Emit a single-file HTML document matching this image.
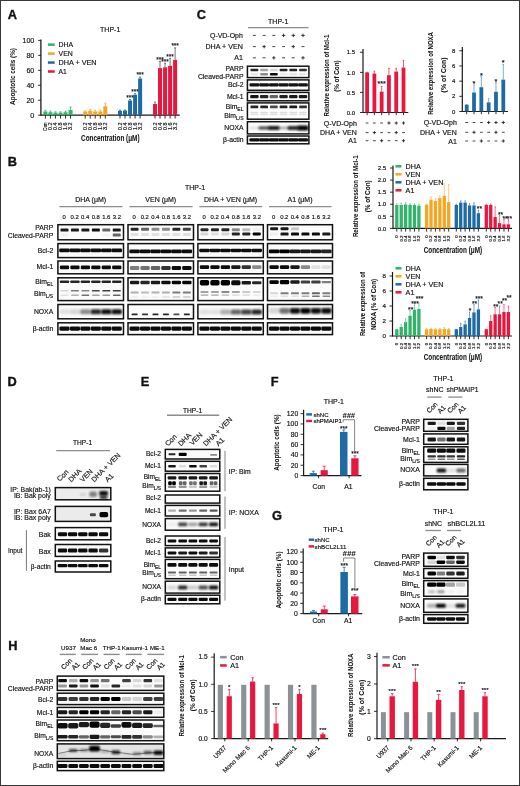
<!DOCTYPE html>
<html><head><meta charset="utf-8"><title>Figure</title>
<style>html,body{margin:0;padding:0;background:#fff;}#w{position:relative;width:520px;height:786px;overflow:hidden;}
svg{display:block;filter:blur(0.3px);}#fr{position:absolute;left:0;top:0;width:518px;height:784px;border:1px solid #383838;}
text{font-family:"Liberation Sans",sans-serif;fill:#111;stroke:#111;stroke-width:0.16px;}
text[font-weight=bold]{stroke-width:0.05px;}text.pl{stroke-width:0.35px;}</style></head><body><div id="w">
<svg width="520" height="786" viewBox="0 0 520 786">
<defs><filter id="b" x="-30%" y="-100%" width="160%" height="300%"><feGaussianBlur stdDeviation="0.55"/></filter>
<filter id="b2" x="-30%" y="-100%" width="160%" height="300%"><feGaussianBlur stdDeviation="0.8"/></filter></defs>
<rect x="0" y="0" width="520" height="786" fill="#fff"/>
<text x="7.8" y="18.6" font-size="12.8" font-weight="bold" class="pl">A</text>
<text x="110.2" y="31.6" font-size="7.0" text-anchor="middle">THP-1</text>
<line x1="40.9" y1="39.4" x2="40.9" y2="115.7" stroke="#1a1a1a" stroke-width="1.3"/>
<line x1="38.1" y1="115.2" x2="40.9" y2="115.2" stroke="#1a1a1a" stroke-width="0.9"/>
<text x="34.2" y="117.72" font-size="7.0" text-anchor="end">0</text>
<line x1="38.1" y1="100.24" x2="40.9" y2="100.24" stroke="#1a1a1a" stroke-width="0.9"/>
<text x="34.2" y="102.76" font-size="7.0" text-anchor="end">20</text>
<line x1="38.1" y1="85.28" x2="40.9" y2="85.28" stroke="#1a1a1a" stroke-width="0.9"/>
<text x="34.2" y="87.8" font-size="7.0" text-anchor="end">40</text>
<line x1="38.1" y1="70.32" x2="40.9" y2="70.32" stroke="#1a1a1a" stroke-width="0.9"/>
<text x="34.2" y="72.84" font-size="7.0" text-anchor="end">60</text>
<line x1="38.1" y1="55.36" x2="40.9" y2="55.36" stroke="#1a1a1a" stroke-width="0.9"/>
<text x="34.2" y="57.88" font-size="7.0" text-anchor="end">80</text>
<line x1="38.1" y1="40.4" x2="40.9" y2="40.4" stroke="#1a1a1a" stroke-width="0.9"/>
<text x="34.2" y="42.92" font-size="7.0" text-anchor="end">100</text>
<line x1="40.9" y1="115.2" x2="179.8" y2="115.2" stroke="#1a1a1a" stroke-width="1.3"/>
<text x="15" y="76.5" font-size="7.8" text-anchor="middle" font-weight="bold" textLength="56.8" lengthAdjust="spacingAndGlyphs" transform="rotate(-90 15 76.5)">Apoptotic cells (%)</text>
<rect x="47.9" y="43.4" width="6.8" height="2.5" fill="#2fb46a"/>
<text x="58.6" y="47.2" font-size="7.2" textLength="14.6" lengthAdjust="spacingAndGlyphs">DHA</text>
<rect x="47.9" y="52.35" width="6.8" height="2.5" fill="#f5a623"/>
<text x="58.6" y="56.15" font-size="7.2" textLength="14.2" lengthAdjust="spacingAndGlyphs">VEN</text>
<rect x="47.9" y="61.3" width="6.8" height="2.5" fill="#1d6aa5"/>
<text x="58.6" y="65.1" font-size="7.2" textLength="38" lengthAdjust="spacingAndGlyphs">DHA + VEN</text>
<rect x="47.9" y="70.25" width="6.8" height="2.5" fill="#e8173e"/>
<text x="58.6" y="74.05" font-size="7.2" textLength="8.2" lengthAdjust="spacingAndGlyphs">A1</text>
<line x1="45.4" y1="111.46" x2="45.4" y2="110.34" stroke="#2fb46a" stroke-width="0.8"/>
<line x1="44.4" y1="110.34" x2="46.4" y2="110.34" stroke="#2fb46a" stroke-width="0.8"/>
<rect x="43.4" y="111.46" width="4" height="3.74" fill="#2fb46a"/>
<line x1="45.4" y1="115.2" x2="45.4" y2="118.6" stroke="#1a1a1a" stroke-width="0.9"/>
<text x="47.1" y="122.4" font-size="5.0" text-anchor="end" textLength="8.6" lengthAdjust="spacingAndGlyphs" transform="rotate(-90 47.1 122.4)">Con</text>
<line x1="50.43" y1="112.21" x2="50.43" y2="111.09" stroke="#2fb46a" stroke-width="0.8"/>
<line x1="49.43" y1="111.09" x2="51.43" y2="111.09" stroke="#2fb46a" stroke-width="0.8"/>
<rect x="48.43" y="112.21" width="4" height="2.99" fill="#2fb46a"/>
<line x1="50.43" y1="115.2" x2="50.43" y2="118.6" stroke="#1a1a1a" stroke-width="0.9"/>
<text x="52.13" y="122.4" font-size="5.0" text-anchor="end" textLength="7.6" lengthAdjust="spacingAndGlyphs" transform="rotate(-90 52.13 122.4)">0.2</text>
<line x1="55.46" y1="112.58" x2="55.46" y2="111.83" stroke="#2fb46a" stroke-width="0.8"/>
<line x1="54.46" y1="111.83" x2="56.46" y2="111.83" stroke="#2fb46a" stroke-width="0.8"/>
<rect x="53.46" y="112.58" width="4" height="2.62" fill="#2fb46a"/>
<line x1="55.46" y1="115.2" x2="55.46" y2="118.6" stroke="#1a1a1a" stroke-width="0.9"/>
<text x="57.16" y="122.4" font-size="5.0" text-anchor="end" textLength="7.6" lengthAdjust="spacingAndGlyphs" transform="rotate(-90 57.16 122.4)">0.4</text>
<line x1="60.49" y1="112.58" x2="60.49" y2="111.83" stroke="#2fb46a" stroke-width="0.8"/>
<line x1="59.49" y1="111.83" x2="61.49" y2="111.83" stroke="#2fb46a" stroke-width="0.8"/>
<rect x="58.49" y="112.58" width="4" height="2.62" fill="#2fb46a"/>
<line x1="60.49" y1="115.2" x2="60.49" y2="118.6" stroke="#1a1a1a" stroke-width="0.9"/>
<text x="62.19" y="122.4" font-size="5.0" text-anchor="end" textLength="7.6" lengthAdjust="spacingAndGlyphs" transform="rotate(-90 62.19 122.4)">0.8</text>
<line x1="65.52" y1="112.21" x2="65.52" y2="111.09" stroke="#2fb46a" stroke-width="0.8"/>
<line x1="64.52" y1="111.09" x2="66.52" y2="111.09" stroke="#2fb46a" stroke-width="0.8"/>
<rect x="63.52" y="112.21" width="4" height="2.99" fill="#2fb46a"/>
<line x1="65.52" y1="115.2" x2="65.52" y2="118.6" stroke="#1a1a1a" stroke-width="0.9"/>
<text x="67.22" y="122.4" font-size="5.0" text-anchor="end" textLength="7.6" lengthAdjust="spacingAndGlyphs" transform="rotate(-90 67.22 122.4)">1.6</text>
<line x1="70.55" y1="109.96" x2="70.55" y2="106.97" stroke="#2fb46a" stroke-width="0.8"/>
<line x1="69.55" y1="106.97" x2="71.55" y2="106.97" stroke="#2fb46a" stroke-width="0.8"/>
<rect x="68.55" y="109.96" width="4" height="5.24" fill="#2fb46a"/>
<line x1="70.55" y1="115.2" x2="70.55" y2="118.6" stroke="#1a1a1a" stroke-width="0.9"/>
<text x="72.25" y="122.4" font-size="5.0" text-anchor="end" textLength="7.6" lengthAdjust="spacingAndGlyphs" transform="rotate(-90 72.25 122.4)">3.2</text>
<line x1="85.2" y1="111.46" x2="85.2" y2="110.71" stroke="#f5a623" stroke-width="0.8"/>
<line x1="84.2" y1="110.71" x2="86.2" y2="110.71" stroke="#f5a623" stroke-width="0.8"/>
<rect x="83.2" y="111.46" width="4" height="3.74" fill="#f5a623"/>
<line x1="85.2" y1="115.2" x2="85.2" y2="118.6" stroke="#1a1a1a" stroke-width="0.9"/>
<text x="86.9" y="122.4" font-size="5.0" text-anchor="end" textLength="7.6" lengthAdjust="spacingAndGlyphs" transform="rotate(-90 86.9 122.4)">0.2</text>
<line x1="90.23" y1="110.71" x2="90.23" y2="109.59" stroke="#f5a623" stroke-width="0.8"/>
<line x1="89.23" y1="109.59" x2="91.23" y2="109.59" stroke="#f5a623" stroke-width="0.8"/>
<rect x="88.23" y="110.71" width="4" height="4.49" fill="#f5a623"/>
<line x1="90.23" y1="115.2" x2="90.23" y2="118.6" stroke="#1a1a1a" stroke-width="0.9"/>
<text x="91.93" y="122.4" font-size="5.0" text-anchor="end" textLength="7.6" lengthAdjust="spacingAndGlyphs" transform="rotate(-90 91.93 122.4)">0.4</text>
<line x1="95.26" y1="111.46" x2="95.26" y2="110.34" stroke="#f5a623" stroke-width="0.8"/>
<line x1="94.26" y1="110.34" x2="96.26" y2="110.34" stroke="#f5a623" stroke-width="0.8"/>
<rect x="93.26" y="111.46" width="4" height="3.74" fill="#f5a623"/>
<line x1="95.26" y1="115.2" x2="95.26" y2="118.6" stroke="#1a1a1a" stroke-width="0.9"/>
<text x="96.96" y="122.4" font-size="5.0" text-anchor="end" textLength="7.6" lengthAdjust="spacingAndGlyphs" transform="rotate(-90 96.96 122.4)">0.8</text>
<line x1="100.29" y1="111.46" x2="100.29" y2="110.34" stroke="#f5a623" stroke-width="0.8"/>
<line x1="99.29" y1="110.34" x2="101.29" y2="110.34" stroke="#f5a623" stroke-width="0.8"/>
<rect x="98.29" y="111.46" width="4" height="3.74" fill="#f5a623"/>
<line x1="100.29" y1="115.2" x2="100.29" y2="118.6" stroke="#1a1a1a" stroke-width="0.9"/>
<text x="101.99" y="122.4" font-size="5.0" text-anchor="end" textLength="7.6" lengthAdjust="spacingAndGlyphs" transform="rotate(-90 101.99 122.4)">1.6</text>
<line x1="105.32" y1="106.22" x2="105.32" y2="103.23" stroke="#f5a623" stroke-width="0.8"/>
<line x1="104.32" y1="103.23" x2="106.32" y2="103.23" stroke="#f5a623" stroke-width="0.8"/>
<rect x="103.32" y="106.22" width="4" height="8.98" fill="#f5a623"/>
<line x1="105.32" y1="115.2" x2="105.32" y2="118.6" stroke="#1a1a1a" stroke-width="0.9"/>
<text x="107.02" y="122.4" font-size="5.0" text-anchor="end" textLength="7.6" lengthAdjust="spacingAndGlyphs" transform="rotate(-90 107.02 122.4)">3.2</text>
<line x1="120" y1="110.86" x2="120" y2="110.34" stroke="#1d6aa5" stroke-width="0.8"/>
<line x1="119" y1="110.34" x2="121" y2="110.34" stroke="#1d6aa5" stroke-width="0.8"/>
<rect x="118" y="110.86" width="4" height="4.34" fill="#1d6aa5"/>
<line x1="120" y1="115.2" x2="120" y2="118.6" stroke="#1a1a1a" stroke-width="0.9"/>
<text x="121.7" y="122.4" font-size="5.0" text-anchor="end" textLength="7.6" lengthAdjust="spacingAndGlyphs" transform="rotate(-90 121.7 122.4)">0.2</text>
<line x1="125.03" y1="110.56" x2="125.03" y2="109.96" stroke="#1d6aa5" stroke-width="0.8"/>
<line x1="124.03" y1="109.96" x2="126.03" y2="109.96" stroke="#1d6aa5" stroke-width="0.8"/>
<rect x="123.03" y="110.56" width="4" height="4.64" fill="#1d6aa5"/>
<line x1="125.03" y1="115.2" x2="125.03" y2="118.6" stroke="#1a1a1a" stroke-width="0.9"/>
<text x="126.73" y="122.4" font-size="5.0" text-anchor="end" textLength="7.6" lengthAdjust="spacingAndGlyphs" transform="rotate(-90 126.73 122.4)">0.4</text>
<line x1="130.06" y1="100.54" x2="130.06" y2="99.49" stroke="#1d6aa5" stroke-width="0.8"/>
<line x1="129.06" y1="99.49" x2="131.06" y2="99.49" stroke="#1d6aa5" stroke-width="0.8"/>
<rect x="128.06" y="100.54" width="4" height="14.66" fill="#1d6aa5"/>
<line x1="130.06" y1="115.2" x2="130.06" y2="118.6" stroke="#1a1a1a" stroke-width="0.9"/>
<text x="130.06" y="99.79" font-size="6.4" text-anchor="middle">***</text>
<text x="131.76" y="122.4" font-size="5.0" text-anchor="end" textLength="7.6" lengthAdjust="spacingAndGlyphs" transform="rotate(-90 131.76 122.4)">0.8</text>
<line x1="135.09" y1="94.78" x2="135.09" y2="93.51" stroke="#1d6aa5" stroke-width="0.8"/>
<line x1="134.09" y1="93.51" x2="136.09" y2="93.51" stroke="#1d6aa5" stroke-width="0.8"/>
<rect x="133.09" y="94.78" width="4" height="20.42" fill="#1d6aa5"/>
<line x1="135.09" y1="115.2" x2="135.09" y2="118.6" stroke="#1a1a1a" stroke-width="0.9"/>
<text x="135.09" y="93.81" font-size="6.4" text-anchor="middle">***</text>
<text x="136.79" y="122.4" font-size="5.0" text-anchor="end" textLength="7.6" lengthAdjust="spacingAndGlyphs" transform="rotate(-90 136.79 122.4)">1.6</text>
<line x1="140.12" y1="78.55" x2="140.12" y2="77.05" stroke="#1d6aa5" stroke-width="0.8"/>
<line x1="139.12" y1="77.05" x2="141.12" y2="77.05" stroke="#1d6aa5" stroke-width="0.8"/>
<rect x="138.12" y="78.55" width="4" height="36.65" fill="#1d6aa5"/>
<line x1="140.12" y1="115.2" x2="140.12" y2="118.6" stroke="#1a1a1a" stroke-width="0.9"/>
<text x="140.12" y="77.35" font-size="6.4" text-anchor="middle">***</text>
<text x="141.82" y="122.4" font-size="5.0" text-anchor="end" textLength="7.6" lengthAdjust="spacingAndGlyphs" transform="rotate(-90 141.82 122.4)">3.2</text>
<line x1="155" y1="103.98" x2="155" y2="102.11" stroke="#555" stroke-width="0.8"/>
<line x1="154" y1="102.11" x2="156" y2="102.11" stroke="#555" stroke-width="0.8"/>
<rect x="153" y="103.98" width="4" height="11.22" fill="#e8173e"/>
<line x1="155" y1="115.2" x2="155" y2="118.6" stroke="#1a1a1a" stroke-width="0.9"/>
<text x="156.7" y="122.4" font-size="5.0" text-anchor="end" textLength="7.6" lengthAdjust="spacingAndGlyphs" transform="rotate(-90 156.7 122.4)">0.2</text>
<line x1="160.03" y1="68.08" x2="160.03" y2="61.34" stroke="#555" stroke-width="0.8"/>
<line x1="159.03" y1="61.34" x2="161.03" y2="61.34" stroke="#555" stroke-width="0.8"/>
<rect x="158.03" y="68.08" width="4" height="47.12" fill="#e8173e"/>
<line x1="160.03" y1="115.2" x2="160.03" y2="118.6" stroke="#1a1a1a" stroke-width="0.9"/>
<text x="160.03" y="61.64" font-size="6.4" text-anchor="middle">***</text>
<text x="161.73" y="122.4" font-size="5.0" text-anchor="end" textLength="7.6" lengthAdjust="spacingAndGlyphs" transform="rotate(-90 161.73 122.4)">0.4</text>
<line x1="165.06" y1="67.33" x2="165.06" y2="63.21" stroke="#555" stroke-width="0.8"/>
<line x1="164.06" y1="63.21" x2="166.06" y2="63.21" stroke="#555" stroke-width="0.8"/>
<rect x="163.06" y="67.33" width="4" height="47.87" fill="#e8173e"/>
<line x1="165.06" y1="115.2" x2="165.06" y2="118.6" stroke="#1a1a1a" stroke-width="0.9"/>
<text x="165.06" y="63.51" font-size="6.4" text-anchor="middle">***</text>
<text x="166.76" y="122.4" font-size="5.0" text-anchor="end" textLength="7.6" lengthAdjust="spacingAndGlyphs" transform="rotate(-90 166.76 122.4)">0.8</text>
<line x1="170.09" y1="65.83" x2="170.09" y2="58.35" stroke="#555" stroke-width="0.8"/>
<line x1="169.09" y1="58.35" x2="171.09" y2="58.35" stroke="#555" stroke-width="0.8"/>
<rect x="168.09" y="65.83" width="4" height="49.37" fill="#e8173e"/>
<line x1="170.09" y1="115.2" x2="170.09" y2="118.6" stroke="#1a1a1a" stroke-width="0.9"/>
<text x="170.09" y="58.65" font-size="6.4" text-anchor="middle">***</text>
<text x="171.79" y="122.4" font-size="5.0" text-anchor="end" textLength="7.6" lengthAdjust="spacingAndGlyphs" transform="rotate(-90 171.79 122.4)">1.6</text>
<line x1="175.12" y1="59.85" x2="175.12" y2="47.88" stroke="#555" stroke-width="0.8"/>
<line x1="174.12" y1="47.88" x2="176.12" y2="47.88" stroke="#555" stroke-width="0.8"/>
<rect x="173.12" y="59.85" width="4" height="55.35" fill="#e8173e"/>
<line x1="175.12" y1="115.2" x2="175.12" y2="118.6" stroke="#1a1a1a" stroke-width="0.9"/>
<text x="175.12" y="48.18" font-size="6.4" text-anchor="middle">***</text>
<text x="176.82" y="122.4" font-size="5.0" text-anchor="end" textLength="7.6" lengthAdjust="spacingAndGlyphs" transform="rotate(-90 176.82 122.4)">3.2</text>
<text x="110.3" y="141.2" font-size="8.3" text-anchor="middle" font-weight="bold" textLength="58.5" lengthAdjust="spacingAndGlyphs">Concentration (μM)</text>
<text x="196.8" y="18.8" font-size="12.8" font-weight="bold" class="pl">C</text>
<text x="278.2" y="23.6" font-size="7.0" text-anchor="middle">THP-1</text>
<line x1="248" y1="27.6" x2="308.5" y2="27.6" stroke="#8c8c8c" stroke-width="1.4"/>
<text x="242.8" y="37.9" font-size="7.0" text-anchor="end" textLength="32.8" lengthAdjust="spacingAndGlyphs">Q-VD-Oph</text>
<line x1="252.9" y1="35.4" x2="255.9" y2="35.4" stroke="#333" stroke-width="0.9"/>
<line x1="262.62" y1="35.4" x2="265.62" y2="35.4" stroke="#333" stroke-width="0.9"/>
<line x1="272.34" y1="35.4" x2="275.34" y2="35.4" stroke="#333" stroke-width="0.9"/>
<line x1="281.86" y1="35.4" x2="285.26" y2="35.4" stroke="#222" stroke-width="0.9"/>
<line x1="283.56" y1="33.7" x2="283.56" y2="37.1" stroke="#222" stroke-width="0.9"/>
<line x1="291.58" y1="35.4" x2="294.98" y2="35.4" stroke="#222" stroke-width="0.9"/>
<line x1="293.28" y1="33.7" x2="293.28" y2="37.1" stroke="#222" stroke-width="0.9"/>
<line x1="301.3" y1="35.4" x2="304.7" y2="35.4" stroke="#222" stroke-width="0.9"/>
<line x1="303" y1="33.7" x2="303" y2="37.1" stroke="#222" stroke-width="0.9"/>
<text x="242.8" y="49.1" font-size="7.0" text-anchor="end" textLength="37.4" lengthAdjust="spacingAndGlyphs">DHA + VEN</text>
<line x1="252.9" y1="46.6" x2="255.9" y2="46.6" stroke="#333" stroke-width="0.9"/>
<line x1="262.42" y1="46.6" x2="265.82" y2="46.6" stroke="#222" stroke-width="0.9"/>
<line x1="264.12" y1="44.9" x2="264.12" y2="48.3" stroke="#222" stroke-width="0.9"/>
<line x1="272.34" y1="46.6" x2="275.34" y2="46.6" stroke="#333" stroke-width="0.9"/>
<line x1="282.06" y1="46.6" x2="285.06" y2="46.6" stroke="#333" stroke-width="0.9"/>
<line x1="291.58" y1="46.6" x2="294.98" y2="46.6" stroke="#222" stroke-width="0.9"/>
<line x1="293.28" y1="44.9" x2="293.28" y2="48.3" stroke="#222" stroke-width="0.9"/>
<line x1="301.5" y1="46.6" x2="304.5" y2="46.6" stroke="#333" stroke-width="0.9"/>
<text x="242.8" y="60.3" font-size="7.0" text-anchor="end">A1</text>
<line x1="252.9" y1="57.8" x2="255.9" y2="57.8" stroke="#333" stroke-width="0.9"/>
<line x1="262.62" y1="57.8" x2="265.62" y2="57.8" stroke="#333" stroke-width="0.9"/>
<line x1="272.14" y1="57.8" x2="275.54" y2="57.8" stroke="#222" stroke-width="0.9"/>
<line x1="273.84" y1="56.1" x2="273.84" y2="59.5" stroke="#222" stroke-width="0.9"/>
<line x1="282.06" y1="57.8" x2="285.06" y2="57.8" stroke="#333" stroke-width="0.9"/>
<line x1="291.78" y1="57.8" x2="294.78" y2="57.8" stroke="#333" stroke-width="0.9"/>
<line x1="301.3" y1="57.8" x2="304.7" y2="57.8" stroke="#222" stroke-width="0.9"/>
<line x1="303" y1="56.1" x2="303" y2="59.5" stroke="#222" stroke-width="0.9"/>
<rect x="247.4" y="66.2" width="61.5" height="11.4" fill="#fbfbfb" stroke="#111" stroke-width="1.5"/>
<rect x="250.51" y="68.72" width="7.78" height="2.56" rx="0.8" fill="#000" fill-opacity="0.85" filter="url(#b)"/>
<rect x="260.23" y="68.72" width="7.78" height="2.56" rx="0.8" fill="#000" fill-opacity="0.35" filter="url(#b)"/>
<rect x="269.95" y="68.72" width="7.78" height="2.56" rx="0.8" fill="#000" fill-opacity="0.15" filter="url(#b)"/>
<rect x="279.67" y="68.72" width="7.78" height="2.56" rx="0.8" fill="#000" fill-opacity="0.85" filter="url(#b)"/>
<rect x="289.39" y="68.72" width="7.78" height="2.56" rx="0.8" fill="#000" fill-opacity="0.85" filter="url(#b)"/>
<rect x="299.11" y="68.72" width="7.78" height="2.56" rx="0.8" fill="#000" fill-opacity="0.8" filter="url(#b)"/>
<rect x="250.51" y="73.02" width="7.78" height="2.56" rx="0.8" fill="#000" fill-opacity="0.08" filter="url(#b)"/>
<rect x="260.23" y="73.02" width="7.78" height="2.56" rx="0.8" fill="#000" fill-opacity="0.45" filter="url(#b)"/>
<rect x="269.95" y="73.02" width="7.78" height="2.56" rx="0.8" fill="#000" fill-opacity="0.95" filter="url(#b)"/>
<rect x="279.67" y="73.02" width="7.78" height="2.56" rx="0.8" fill="#000" fill-opacity="0.05" filter="url(#b)"/>
<rect x="289.39" y="73.02" width="7.78" height="2.56" rx="0.8" fill="#000" fill-opacity="0.08" filter="url(#b)"/>
<rect x="299.11" y="73.02" width="7.78" height="2.56" rx="0.8" fill="#000" fill-opacity="0.08" filter="url(#b)"/>
<rect x="247.4" y="79.9" width="61.5" height="10.4" fill="#fbfbfb" stroke="#111" stroke-width="1.5"/>
<rect x="249.54" y="83.28" width="9.72" height="3.24" rx="1.01" fill="#000" fill-opacity="0.92" filter="url(#b)"/>
<rect x="259.26" y="83.28" width="9.72" height="3.24" rx="1.01" fill="#000" fill-opacity="0.92" filter="url(#b)"/>
<rect x="268.98" y="83.28" width="9.72" height="3.24" rx="1.01" fill="#000" fill-opacity="0.92" filter="url(#b)"/>
<rect x="278.7" y="83.28" width="9.72" height="3.24" rx="1.01" fill="#000" fill-opacity="0.92" filter="url(#b)"/>
<rect x="288.42" y="83.28" width="9.72" height="3.24" rx="1.01" fill="#000" fill-opacity="0.92" filter="url(#b)"/>
<rect x="298.14" y="83.28" width="9.72" height="3.24" rx="1.01" fill="#000" fill-opacity="0.92" filter="url(#b)"/>
<rect x="247.4" y="92.4" width="61.5" height="8.4" fill="#fbfbfb" stroke="#111" stroke-width="1.5"/>
<rect x="250.19" y="95.08" width="8.42" height="3.24" rx="1.01" fill="#000" fill-opacity="0.92" filter="url(#b)"/>
<rect x="259.91" y="95.08" width="8.42" height="3.24" rx="1.01" fill="#000" fill-opacity="0.85" filter="url(#b)"/>
<rect x="269.63" y="95.08" width="8.42" height="3.24" rx="1.01" fill="#000" fill-opacity="0.6" filter="url(#b)"/>
<rect x="279.35" y="95.08" width="8.42" height="3.24" rx="1.01" fill="#000" fill-opacity="0.88" filter="url(#b)"/>
<rect x="289.07" y="95.08" width="8.42" height="3.24" rx="1.01" fill="#000" fill-opacity="0.9" filter="url(#b)"/>
<rect x="298.79" y="95.08" width="8.42" height="3.24" rx="1.01" fill="#000" fill-opacity="0.9" filter="url(#b)"/>
<rect x="247.4" y="102.9" width="61.5" height="16.3" fill="#fbfbfb" stroke="#111" stroke-width="1.5"/>
<rect x="250.51" y="105.55" width="7.78" height="2.7" rx="0.84" fill="#000" fill-opacity="0.85" filter="url(#b)"/>
<rect x="260.23" y="105.55" width="7.78" height="2.7" rx="0.84" fill="#000" fill-opacity="0.85" filter="url(#b)"/>
<rect x="269.95" y="105.55" width="7.78" height="2.7" rx="0.84" fill="#000" fill-opacity="0.7" filter="url(#b)"/>
<rect x="279.67" y="105.55" width="7.78" height="2.7" rx="0.84" fill="#000" fill-opacity="0.85" filter="url(#b)"/>
<rect x="289.39" y="105.55" width="7.78" height="2.7" rx="0.84" fill="#000" fill-opacity="0.9" filter="url(#b)"/>
<rect x="299.11" y="105.55" width="7.78" height="2.7" rx="0.84" fill="#000" fill-opacity="0.8" filter="url(#b)"/>
<rect x="250.62" y="111.79" width="7.56" height="1.62" rx="0.51" fill="#000" fill-opacity="0.12" filter="url(#b)"/>
<rect x="260.34" y="111.79" width="7.56" height="1.62" rx="0.51" fill="#000" fill-opacity="0.12" filter="url(#b)"/>
<rect x="270.06" y="111.79" width="7.56" height="1.62" rx="0.51" fill="#000" fill-opacity="0.12" filter="url(#b)"/>
<rect x="279.78" y="111.79" width="7.56" height="1.62" rx="0.51" fill="#000" fill-opacity="0.12" filter="url(#b)"/>
<rect x="289.5" y="111.79" width="7.56" height="1.62" rx="0.51" fill="#000" fill-opacity="0.12" filter="url(#b)"/>
<rect x="299.22" y="111.79" width="7.56" height="1.62" rx="0.51" fill="#000" fill-opacity="0.12" filter="url(#b)"/>
<rect x="250.62" y="113.92" width="7.56" height="1.35" rx="0.42" fill="#000" fill-opacity="0.1" filter="url(#b)"/>
<rect x="260.34" y="113.92" width="7.56" height="1.35" rx="0.42" fill="#000" fill-opacity="0.1" filter="url(#b)"/>
<rect x="270.06" y="113.92" width="7.56" height="1.35" rx="0.42" fill="#000" fill-opacity="0.1" filter="url(#b)"/>
<rect x="279.78" y="113.92" width="7.56" height="1.35" rx="0.42" fill="#000" fill-opacity="0.1" filter="url(#b)"/>
<rect x="289.5" y="113.92" width="7.56" height="1.35" rx="0.42" fill="#000" fill-opacity="0.1" filter="url(#b)"/>
<rect x="299.22" y="113.92" width="7.56" height="1.35" rx="0.42" fill="#000" fill-opacity="0.1" filter="url(#b)"/>
<rect x="247.4" y="121.7" width="61.5" height="12.2" fill="#fbfbfb" stroke="#111" stroke-width="1.5"/>
<rect x="248.89" y="126.92" width="11.02" height="2.16" rx="0.68" fill="#000" fill-opacity="0.12" filter="url(#b2)"/>
<rect x="258.61" y="126.38" width="11.02" height="3.24" rx="1.01" fill="#000" fill-opacity="0.75" filter="url(#b2)"/>
<rect x="268.33" y="126.11" width="11.02" height="3.78" rx="1.18" fill="#000" fill-opacity="0.9" filter="url(#b2)"/>
<rect x="278.05" y="126.78" width="11.02" height="2.43" rx="0.76" fill="#000" fill-opacity="0.35" filter="url(#b2)"/>
<rect x="287.77" y="126.11" width="11.02" height="3.78" rx="1.18" fill="#000" fill-opacity="0.85" filter="url(#b2)"/>
<rect x="297.49" y="125.57" width="11.02" height="4.86" rx="1.52" fill="#000" fill-opacity="1.0" filter="url(#b2)"/>
<rect x="247.4" y="136" width="61.5" height="7.8" fill="#fbfbfb" stroke="#111" stroke-width="1.5"/>
<rect x="249.43" y="138.18" width="9.94" height="3.24" rx="1.01" fill="#000" fill-opacity="0.95" filter="url(#b)"/>
<rect x="259.15" y="138.18" width="9.94" height="3.24" rx="1.01" fill="#000" fill-opacity="0.95" filter="url(#b)"/>
<rect x="268.87" y="138.18" width="9.94" height="3.24" rx="1.01" fill="#000" fill-opacity="0.95" filter="url(#b)"/>
<rect x="278.59" y="138.18" width="9.94" height="3.24" rx="1.01" fill="#000" fill-opacity="0.95" filter="url(#b)"/>
<rect x="288.31" y="138.18" width="9.94" height="3.24" rx="1.01" fill="#000" fill-opacity="0.95" filter="url(#b)"/>
<rect x="298.03" y="138.18" width="9.94" height="3.24" rx="1.01" fill="#000" fill-opacity="0.95" filter="url(#b)"/>
<text x="243.5" y="71" font-size="6.8" text-anchor="end">PARP</text>
<text x="243.5" y="78.5" font-size="6.8" text-anchor="end" textLength="45.6" lengthAdjust="spacingAndGlyphs">Cleaved-PARP</text>
<text x="243.5" y="87.1" font-size="6.8" text-anchor="end">Bcl-2</text>
<text x="243.5" y="98.7" font-size="6.8" text-anchor="end">Mcl-1</text>
<text x="243.5" y="108.7" font-size="6.8" text-anchor="end">Bim<tspan font-size="74%" dy="0.42em">EL</tspan></text>
<text x="243.5" y="117.5" font-size="6.8" text-anchor="end">Bim<tspan font-size="74%" dy="0.42em">L/S</tspan></text>
<text x="243.5" y="130.2" font-size="6.8" text-anchor="end">NOXA</text>
<text x="243.5" y="142.3" font-size="6.8" text-anchor="end">β-actin</text>
<line x1="363" y1="49" x2="363" y2="113" stroke="#1a1a1a" stroke-width="1.2"/>
<line x1="360" y1="112.5" x2="363" y2="112.5" stroke="#1a1a1a" stroke-width="0.9"/>
<text x="355" y="114.66" font-size="6.0" text-anchor="end">0.0</text>
<line x1="360" y1="92.43" x2="363" y2="92.43" stroke="#1a1a1a" stroke-width="0.9"/>
<text x="355" y="94.59" font-size="6.0" text-anchor="end">0.5</text>
<line x1="360" y1="72.37" x2="363" y2="72.37" stroke="#1a1a1a" stroke-width="0.9"/>
<text x="355" y="74.53" font-size="6.0" text-anchor="end">1.0</text>
<line x1="360" y1="52.3" x2="363" y2="52.3" stroke="#1a1a1a" stroke-width="0.9"/>
<text x="355" y="54.46" font-size="6.0" text-anchor="end">1.5</text>
<line x1="363" y1="112.5" x2="408.3" y2="112.5" stroke="#1a1a1a" stroke-width="1.2"/>
<line x1="367.1" y1="72.37" x2="367.1" y2="72.37" stroke="#e8173e" stroke-width="0.7"/>
<line x1="366.3" y1="72.37" x2="367.9" y2="72.37" stroke="#e8173e" stroke-width="0.7"/>
<rect x="365.2" y="72.37" width="3.8" height="40.13" fill="#e8173e"/>
<line x1="367.1" y1="112.5" x2="367.1" y2="115.2" stroke="#1a1a1a" stroke-width="0.9"/>
<line x1="374.38" y1="73.57" x2="374.38" y2="71.16" stroke="#e8173e" stroke-width="0.7"/>
<line x1="373.58" y1="71.16" x2="375.18" y2="71.16" stroke="#e8173e" stroke-width="0.7"/>
<rect x="372.48" y="73.57" width="3.8" height="38.93" fill="#e8173e"/>
<line x1="374.38" y1="112.5" x2="374.38" y2="115.2" stroke="#1a1a1a" stroke-width="0.9"/>
<line x1="381.66" y1="91.63" x2="381.66" y2="86.41" stroke="#e8173e" stroke-width="0.7"/>
<line x1="380.86" y1="86.41" x2="382.46" y2="86.41" stroke="#e8173e" stroke-width="0.7"/>
<rect x="379.76" y="91.63" width="3.8" height="20.87" fill="#e8173e"/>
<line x1="381.66" y1="112.5" x2="381.66" y2="115.2" stroke="#1a1a1a" stroke-width="0.9"/>
<line x1="388.94" y1="75.18" x2="388.94" y2="68.35" stroke="#e8173e" stroke-width="0.7"/>
<line x1="388.14" y1="68.35" x2="389.74" y2="68.35" stroke="#e8173e" stroke-width="0.7"/>
<rect x="387.04" y="75.18" width="3.8" height="37.32" fill="#e8173e"/>
<line x1="388.94" y1="112.5" x2="388.94" y2="115.2" stroke="#1a1a1a" stroke-width="0.9"/>
<line x1="396.22" y1="71.56" x2="396.22" y2="68.35" stroke="#e8173e" stroke-width="0.7"/>
<line x1="395.42" y1="68.35" x2="397.02" y2="68.35" stroke="#e8173e" stroke-width="0.7"/>
<rect x="394.32" y="71.56" width="3.8" height="40.94" fill="#e8173e"/>
<line x1="396.22" y1="112.5" x2="396.22" y2="115.2" stroke="#1a1a1a" stroke-width="0.9"/>
<line x1="403.5" y1="67.55" x2="403.5" y2="60.33" stroke="#e8173e" stroke-width="0.7"/>
<line x1="402.7" y1="60.33" x2="404.3" y2="60.33" stroke="#e8173e" stroke-width="0.7"/>
<rect x="401.6" y="67.55" width="3.8" height="44.95" fill="#e8173e"/>
<line x1="403.5" y1="112.5" x2="403.5" y2="115.2" stroke="#1a1a1a" stroke-width="0.9"/>
<text x="381.66" y="86.4" font-size="7.2" text-anchor="middle">***</text>
<text x="328.9" y="75.5" font-size="8.0" text-anchor="middle" font-weight="bold" textLength="81.9" lengthAdjust="spacingAndGlyphs" transform="rotate(-90 328.9 75.5)">Relative expression of Mcl-1</text>
<text x="338.9" y="76.1" font-size="8.0" text-anchor="middle" font-weight="bold" textLength="31.5" lengthAdjust="spacingAndGlyphs" transform="rotate(-90 338.9 76.1)">(% of Con)</text>
<text x="356.8" y="125.5" font-size="7.0" text-anchor="end">Q-VD-Oph</text>
<line x1="365.7" y1="123" x2="368.5" y2="123" stroke="#333" stroke-width="0.9"/>
<line x1="372.98" y1="123" x2="375.78" y2="123" stroke="#333" stroke-width="0.9"/>
<line x1="380.26" y1="123" x2="383.06" y2="123" stroke="#333" stroke-width="0.9"/>
<line x1="387.34" y1="123" x2="390.54" y2="123" stroke="#222" stroke-width="0.9"/>
<line x1="388.94" y1="121.4" x2="388.94" y2="124.6" stroke="#222" stroke-width="0.9"/>
<line x1="394.62" y1="123" x2="397.82" y2="123" stroke="#222" stroke-width="0.9"/>
<line x1="396.22" y1="121.4" x2="396.22" y2="124.6" stroke="#222" stroke-width="0.9"/>
<line x1="401.9" y1="123" x2="405.1" y2="123" stroke="#222" stroke-width="0.9"/>
<line x1="403.5" y1="121.4" x2="403.5" y2="124.6" stroke="#222" stroke-width="0.9"/>
<text x="356.8" y="135.1" font-size="7.0" text-anchor="end">DHA + VEN</text>
<line x1="365.7" y1="132.6" x2="368.5" y2="132.6" stroke="#333" stroke-width="0.9"/>
<line x1="372.78" y1="132.6" x2="375.98" y2="132.6" stroke="#222" stroke-width="0.9"/>
<line x1="374.38" y1="131" x2="374.38" y2="134.2" stroke="#222" stroke-width="0.9"/>
<line x1="380.26" y1="132.6" x2="383.06" y2="132.6" stroke="#333" stroke-width="0.9"/>
<line x1="387.54" y1="132.6" x2="390.34" y2="132.6" stroke="#333" stroke-width="0.9"/>
<line x1="394.62" y1="132.6" x2="397.82" y2="132.6" stroke="#222" stroke-width="0.9"/>
<line x1="396.22" y1="131" x2="396.22" y2="134.2" stroke="#222" stroke-width="0.9"/>
<line x1="402.1" y1="132.6" x2="404.9" y2="132.6" stroke="#333" stroke-width="0.9"/>
<text x="356.8" y="143.2" font-size="7.0" text-anchor="end">A1</text>
<line x1="365.7" y1="140.7" x2="368.5" y2="140.7" stroke="#333" stroke-width="0.9"/>
<line x1="372.98" y1="140.7" x2="375.78" y2="140.7" stroke="#333" stroke-width="0.9"/>
<line x1="380.06" y1="140.7" x2="383.26" y2="140.7" stroke="#222" stroke-width="0.9"/>
<line x1="381.66" y1="139.1" x2="381.66" y2="142.3" stroke="#222" stroke-width="0.9"/>
<line x1="387.54" y1="140.7" x2="390.34" y2="140.7" stroke="#333" stroke-width="0.9"/>
<line x1="394.82" y1="140.7" x2="397.62" y2="140.7" stroke="#333" stroke-width="0.9"/>
<line x1="401.9" y1="140.7" x2="405.1" y2="140.7" stroke="#222" stroke-width="0.9"/>
<line x1="403.5" y1="139.1" x2="403.5" y2="142.3" stroke="#222" stroke-width="0.9"/>
<line x1="462.3" y1="47" x2="462.3" y2="112" stroke="#1a1a1a" stroke-width="1.2"/>
<line x1="459.3" y1="111.5" x2="462.3" y2="111.5" stroke="#1a1a1a" stroke-width="0.9"/>
<text x="455.3" y="113.66" font-size="6.0" text-anchor="end">0</text>
<line x1="459.3" y1="96.33" x2="462.3" y2="96.33" stroke="#1a1a1a" stroke-width="0.9"/>
<text x="455.3" y="98.48" font-size="6.0" text-anchor="end">2</text>
<line x1="459.3" y1="81.15" x2="462.3" y2="81.15" stroke="#1a1a1a" stroke-width="0.9"/>
<text x="455.3" y="83.31" font-size="6.0" text-anchor="end">4</text>
<line x1="459.3" y1="65.97" x2="462.3" y2="65.97" stroke="#1a1a1a" stroke-width="0.9"/>
<text x="455.3" y="68.13" font-size="6.0" text-anchor="end">6</text>
<line x1="459.3" y1="50.8" x2="462.3" y2="50.8" stroke="#1a1a1a" stroke-width="0.9"/>
<text x="455.3" y="52.96" font-size="6.0" text-anchor="end">8</text>
<line x1="462.3" y1="111.5" x2="508" y2="111.5" stroke="#1a1a1a" stroke-width="1.2"/>
<line x1="466.7" y1="104.67" x2="466.7" y2="104.67" stroke="#4a8cc0" stroke-width="0.7"/>
<line x1="465.9" y1="104.67" x2="467.5" y2="104.67" stroke="#4a8cc0" stroke-width="0.7"/>
<rect x="464.8" y="104.67" width="3.8" height="6.83" fill="#1d6aa5"/>
<line x1="466.7" y1="111.5" x2="466.7" y2="114.2" stroke="#1a1a1a" stroke-width="0.9"/>
<line x1="474.02" y1="92.53" x2="474.02" y2="84.94" stroke="#4a8cc0" stroke-width="0.7"/>
<line x1="473.22" y1="84.94" x2="474.82" y2="84.94" stroke="#4a8cc0" stroke-width="0.7"/>
<rect x="472.12" y="92.53" width="3.8" height="18.97" fill="#1d6aa5"/>
<line x1="474.02" y1="111.5" x2="474.02" y2="114.2" stroke="#1a1a1a" stroke-width="0.9"/>
<text x="474.02" y="85.94" font-size="7.4" text-anchor="middle">*</text>
<line x1="481.34" y1="87.22" x2="481.34" y2="76.6" stroke="#4a8cc0" stroke-width="0.7"/>
<line x1="480.54" y1="76.6" x2="482.14" y2="76.6" stroke="#4a8cc0" stroke-width="0.7"/>
<rect x="479.44" y="87.22" width="3.8" height="24.28" fill="#1d6aa5"/>
<line x1="481.34" y1="111.5" x2="481.34" y2="114.2" stroke="#1a1a1a" stroke-width="0.9"/>
<text x="481.34" y="77.6" font-size="7.4" text-anchor="middle">*</text>
<line x1="488.66" y1="102.39" x2="488.66" y2="98.6" stroke="#4a8cc0" stroke-width="0.7"/>
<line x1="487.86" y1="98.6" x2="489.46" y2="98.6" stroke="#4a8cc0" stroke-width="0.7"/>
<rect x="486.76" y="102.39" width="3.8" height="9.11" fill="#1d6aa5"/>
<line x1="488.66" y1="111.5" x2="488.66" y2="114.2" stroke="#1a1a1a" stroke-width="0.9"/>
<line x1="495.98" y1="91.77" x2="495.98" y2="82.67" stroke="#4a8cc0" stroke-width="0.7"/>
<line x1="495.18" y1="82.67" x2="496.78" y2="82.67" stroke="#4a8cc0" stroke-width="0.7"/>
<rect x="494.08" y="91.77" width="3.8" height="19.73" fill="#1d6aa5"/>
<line x1="495.98" y1="111.5" x2="495.98" y2="114.2" stroke="#1a1a1a" stroke-width="0.9"/>
<text x="495.98" y="83.67" font-size="7.4" text-anchor="middle">*</text>
<line x1="503.3" y1="79.63" x2="503.3" y2="64.46" stroke="#4a8cc0" stroke-width="0.7"/>
<line x1="502.5" y1="64.46" x2="504.1" y2="64.46" stroke="#4a8cc0" stroke-width="0.7"/>
<rect x="501.4" y="79.63" width="3.8" height="31.87" fill="#1d6aa5"/>
<line x1="503.3" y1="111.5" x2="503.3" y2="114.2" stroke="#1a1a1a" stroke-width="0.9"/>
<text x="503.3" y="65.46" font-size="7.4" text-anchor="middle">*</text>
<text x="433.5" y="73.4" font-size="8.0" text-anchor="middle" font-weight="bold" textLength="82.7" lengthAdjust="spacingAndGlyphs" transform="rotate(-90 433.5 73.4)">Relative expression of NOXA</text>
<text x="446" y="74.9" font-size="8.0" text-anchor="middle" font-weight="bold" textLength="35" lengthAdjust="spacingAndGlyphs" transform="rotate(-90 446 74.9)">(% of Con)</text>
<text x="456.8" y="125" font-size="7.0" text-anchor="end">Q-VD-Oph</text>
<line x1="465.3" y1="122.5" x2="468.1" y2="122.5" stroke="#333" stroke-width="0.9"/>
<line x1="472.62" y1="122.5" x2="475.42" y2="122.5" stroke="#333" stroke-width="0.9"/>
<line x1="479.94" y1="122.5" x2="482.74" y2="122.5" stroke="#333" stroke-width="0.9"/>
<line x1="487.06" y1="122.5" x2="490.26" y2="122.5" stroke="#222" stroke-width="0.9"/>
<line x1="488.66" y1="120.9" x2="488.66" y2="124.1" stroke="#222" stroke-width="0.9"/>
<line x1="494.38" y1="122.5" x2="497.58" y2="122.5" stroke="#222" stroke-width="0.9"/>
<line x1="495.98" y1="120.9" x2="495.98" y2="124.1" stroke="#222" stroke-width="0.9"/>
<line x1="501.7" y1="122.5" x2="504.9" y2="122.5" stroke="#222" stroke-width="0.9"/>
<line x1="503.3" y1="120.9" x2="503.3" y2="124.1" stroke="#222" stroke-width="0.9"/>
<text x="456.8" y="134.8" font-size="7.0" text-anchor="end">DHA + VEN</text>
<line x1="465.3" y1="132.3" x2="468.1" y2="132.3" stroke="#333" stroke-width="0.9"/>
<line x1="472.42" y1="132.3" x2="475.62" y2="132.3" stroke="#222" stroke-width="0.9"/>
<line x1="474.02" y1="130.7" x2="474.02" y2="133.9" stroke="#222" stroke-width="0.9"/>
<line x1="479.94" y1="132.3" x2="482.74" y2="132.3" stroke="#333" stroke-width="0.9"/>
<line x1="487.26" y1="132.3" x2="490.06" y2="132.3" stroke="#333" stroke-width="0.9"/>
<line x1="494.38" y1="132.3" x2="497.58" y2="132.3" stroke="#222" stroke-width="0.9"/>
<line x1="495.98" y1="130.7" x2="495.98" y2="133.9" stroke="#222" stroke-width="0.9"/>
<line x1="501.9" y1="132.3" x2="504.7" y2="132.3" stroke="#333" stroke-width="0.9"/>
<text x="456.8" y="143.5" font-size="7.0" text-anchor="end">A1</text>
<line x1="465.3" y1="141" x2="468.1" y2="141" stroke="#333" stroke-width="0.9"/>
<line x1="472.62" y1="141" x2="475.42" y2="141" stroke="#333" stroke-width="0.9"/>
<line x1="479.74" y1="141" x2="482.94" y2="141" stroke="#222" stroke-width="0.9"/>
<line x1="481.34" y1="139.4" x2="481.34" y2="142.6" stroke="#222" stroke-width="0.9"/>
<line x1="487.26" y1="141" x2="490.06" y2="141" stroke="#333" stroke-width="0.9"/>
<line x1="494.58" y1="141" x2="497.38" y2="141" stroke="#333" stroke-width="0.9"/>
<line x1="501.7" y1="141" x2="504.9" y2="141" stroke="#222" stroke-width="0.9"/>
<line x1="503.3" y1="139.4" x2="503.3" y2="142.6" stroke="#222" stroke-width="0.9"/>
<text x="7.8" y="166.2" font-size="12.8" font-weight="bold" class="pl">B</text>
<text x="195" y="190" font-size="7.0" text-anchor="middle">THP-1</text>
<text x="90.7" y="202" font-size="7.0" text-anchor="middle">DHA (μM)</text>
<line x1="59.4" y1="206.6" x2="122.5" y2="206.6" stroke="#8c8c8c" stroke-width="1.4"/>
<text x="64.1" y="219.2" font-size="5.9" text-anchor="middle">0</text>
<text x="74.65" y="219.2" font-size="5.9" text-anchor="middle">0.2</text>
<text x="85.2" y="219.2" font-size="5.9" text-anchor="middle">0.4</text>
<text x="95.75" y="219.2" font-size="5.9" text-anchor="middle">0.8</text>
<text x="106.3" y="219.2" font-size="5.9" text-anchor="middle">1.6</text>
<text x="116.85" y="219.2" font-size="5.9" text-anchor="middle">3.2</text>
<text x="160.75" y="202" font-size="7.0" text-anchor="middle">VEN (μM)</text>
<line x1="129.5" y1="206.6" x2="192.5" y2="206.6" stroke="#8c8c8c" stroke-width="1.4"/>
<text x="134.2" y="219.2" font-size="5.9" text-anchor="middle">0</text>
<text x="144.75" y="219.2" font-size="5.9" text-anchor="middle">0.2</text>
<text x="155.3" y="219.2" font-size="5.9" text-anchor="middle">0.4</text>
<text x="165.85" y="219.2" font-size="5.9" text-anchor="middle">0.8</text>
<text x="176.4" y="219.2" font-size="5.9" text-anchor="middle">1.6</text>
<text x="186.95" y="219.2" font-size="5.9" text-anchor="middle">3.2</text>
<text x="230.6" y="202" font-size="7.0" text-anchor="middle">DHA + VEN (μM)</text>
<line x1="199.4" y1="206.6" x2="262.3" y2="206.6" stroke="#8c8c8c" stroke-width="1.4"/>
<text x="204.1" y="219.2" font-size="5.9" text-anchor="middle">0</text>
<text x="214.65" y="219.2" font-size="5.9" text-anchor="middle">0.2</text>
<text x="225.2" y="219.2" font-size="5.9" text-anchor="middle">0.4</text>
<text x="235.75" y="219.2" font-size="5.9" text-anchor="middle">0.8</text>
<text x="246.3" y="219.2" font-size="5.9" text-anchor="middle">1.6</text>
<text x="256.85" y="219.2" font-size="5.9" text-anchor="middle">3.2</text>
<text x="300" y="202" font-size="7.0" text-anchor="middle">A1 (μM)</text>
<line x1="269" y1="206.6" x2="331.5" y2="206.6" stroke="#8c8c8c" stroke-width="1.4"/>
<text x="273.7" y="219.2" font-size="5.9" text-anchor="middle">0</text>
<text x="284.25" y="219.2" font-size="5.9" text-anchor="middle">0.2</text>
<text x="294.8" y="219.2" font-size="5.9" text-anchor="middle">0.4</text>
<text x="305.35" y="219.2" font-size="5.9" text-anchor="middle">0.8</text>
<text x="315.9" y="219.2" font-size="5.9" text-anchor="middle">1.6</text>
<text x="326.45" y="219.2" font-size="5.9" text-anchor="middle">3.2</text>
<rect x="57.9" y="224.7" width="65.6" height="15.1" fill="#fbfbfb" stroke="#111" stroke-width="1.5"/>
<rect x="60.5" y="228.61" width="7.99" height="2.97" rx="0.93" fill="#000" fill-opacity="0.9" filter="url(#b)"/>
<rect x="70.95" y="228.61" width="7.99" height="2.97" rx="0.93" fill="#000" fill-opacity="0.9" filter="url(#b)"/>
<rect x="81.4" y="228.61" width="7.99" height="2.97" rx="0.93" fill="#000" fill-opacity="0.9" filter="url(#b)"/>
<rect x="91.85" y="228.61" width="7.99" height="2.97" rx="0.93" fill="#000" fill-opacity="0.95" filter="url(#b)"/>
<rect x="102.3" y="228.61" width="7.99" height="2.97" rx="0.93" fill="#000" fill-opacity="0.6" filter="url(#b)"/>
<rect x="112.75" y="228.61" width="7.99" height="2.97" rx="0.93" fill="#000" fill-opacity="0.9" filter="url(#b)"/>
<rect x="60.5" y="233.61" width="7.99" height="2.97" rx="0.93" fill="#000" fill-opacity="0.04" filter="url(#b)"/>
<rect x="102.3" y="233.61" width="7.99" height="2.97" rx="0.93" fill="#000" fill-opacity="0.03" filter="url(#b)"/>
<rect x="112.75" y="233.61" width="7.99" height="2.97" rx="0.93" fill="#000" fill-opacity="0.6" filter="url(#b)"/>
<rect x="57.9" y="243.6" width="65.6" height="14" fill="#fbfbfb" stroke="#111" stroke-width="1.5"/>
<rect x="59.21" y="248.51" width="10.58" height="3.78" rx="1.18" fill="#000" fill-opacity="0.95" filter="url(#b)"/>
<rect x="69.66" y="248.51" width="10.58" height="3.78" rx="1.18" fill="#000" fill-opacity="0.95" filter="url(#b)"/>
<rect x="80.11" y="248.51" width="10.58" height="3.78" rx="1.18" fill="#000" fill-opacity="0.95" filter="url(#b)"/>
<rect x="90.56" y="248.51" width="10.58" height="3.78" rx="1.18" fill="#000" fill-opacity="0.95" filter="url(#b)"/>
<rect x="101.01" y="248.51" width="10.58" height="3.78" rx="1.18" fill="#000" fill-opacity="0.95" filter="url(#b)"/>
<rect x="111.46" y="248.51" width="10.58" height="3.78" rx="1.18" fill="#000" fill-opacity="0.95" filter="url(#b)"/>
<rect x="57.9" y="261" width="65.6" height="12.8" fill="#fbfbfb" stroke="#111" stroke-width="1.5"/>
<rect x="59.86" y="265.51" width="9.29" height="3.78" rx="1.18" fill="#000" fill-opacity="0.95" filter="url(#b)"/>
<rect x="70.31" y="265.51" width="9.29" height="3.78" rx="1.18" fill="#000" fill-opacity="0.95" filter="url(#b)"/>
<rect x="80.76" y="265.51" width="9.29" height="3.78" rx="1.18" fill="#000" fill-opacity="0.95" filter="url(#b)"/>
<rect x="91.21" y="265.51" width="9.29" height="3.78" rx="1.18" fill="#000" fill-opacity="0.95" filter="url(#b)"/>
<rect x="101.66" y="265.51" width="9.29" height="3.78" rx="1.18" fill="#000" fill-opacity="0.95" filter="url(#b)"/>
<rect x="112.11" y="265.51" width="9.29" height="3.78" rx="1.18" fill="#000" fill-opacity="0.95" filter="url(#b)"/>
<rect x="57.9" y="277.8" width="65.6" height="22.8" fill="#fbfbfb" stroke="#111" stroke-width="1.5"/>
<rect x="59.86" y="280.59" width="9.29" height="2.43" rx="0.76" fill="#000" fill-opacity="0.85" filter="url(#b)"/>
<rect x="70.31" y="280.59" width="9.29" height="2.43" rx="0.76" fill="#000" fill-opacity="0.85" filter="url(#b)"/>
<rect x="80.76" y="280.59" width="9.29" height="2.43" rx="0.76" fill="#000" fill-opacity="0.85" filter="url(#b)"/>
<rect x="91.21" y="280.59" width="9.29" height="2.43" rx="0.76" fill="#000" fill-opacity="0.85" filter="url(#b)"/>
<rect x="101.66" y="280.59" width="9.29" height="2.43" rx="0.76" fill="#000" fill-opacity="0.85" filter="url(#b)"/>
<rect x="112.11" y="280.59" width="9.29" height="2.43" rx="0.76" fill="#000" fill-opacity="0.85" filter="url(#b)"/>
<rect x="60.5" y="289.99" width="7.99" height="1.62" rx="0.51" fill="#000" fill-opacity="0.15" filter="url(#b)"/>
<rect x="70.95" y="289.99" width="7.99" height="1.62" rx="0.51" fill="#000" fill-opacity="0.5" filter="url(#b)"/>
<rect x="81.4" y="289.99" width="7.99" height="1.62" rx="0.51" fill="#000" fill-opacity="0.45" filter="url(#b)"/>
<rect x="91.85" y="289.99" width="7.99" height="1.62" rx="0.51" fill="#000" fill-opacity="0.7" filter="url(#b)"/>
<rect x="102.3" y="289.99" width="7.99" height="1.62" rx="0.51" fill="#000" fill-opacity="0.75" filter="url(#b)"/>
<rect x="112.75" y="289.99" width="7.99" height="1.62" rx="0.51" fill="#000" fill-opacity="0.75" filter="url(#b)"/>
<rect x="60.72" y="294.49" width="7.56" height="1.62" rx="0.51" fill="#000" fill-opacity="0.1" filter="url(#b)"/>
<rect x="71.17" y="294.49" width="7.56" height="1.62" rx="0.51" fill="#000" fill-opacity="0.3" filter="url(#b)"/>
<rect x="81.62" y="294.49" width="7.56" height="1.62" rx="0.51" fill="#000" fill-opacity="0.55" filter="url(#b)"/>
<rect x="92.07" y="294.49" width="7.56" height="1.62" rx="0.51" fill="#000" fill-opacity="0.35" filter="url(#b)"/>
<rect x="102.52" y="294.49" width="7.56" height="1.62" rx="0.51" fill="#000" fill-opacity="0.4" filter="url(#b)"/>
<rect x="112.97" y="294.49" width="7.56" height="1.62" rx="0.51" fill="#000" fill-opacity="0.6" filter="url(#b)"/>
<rect x="57.9" y="304.5" width="65.6" height="14.3" fill="#fbfbfb" stroke="#111" stroke-width="1.5"/>
<rect x="59.32" y="309.37" width="10.37" height="4.86" rx="1.52" fill="#000" fill-opacity="0.1" filter="url(#b2)"/>
<rect x="69.77" y="309.37" width="10.37" height="4.86" rx="1.52" fill="#000" fill-opacity="0.15" filter="url(#b2)"/>
<rect x="80.22" y="309.37" width="10.37" height="4.86" rx="1.52" fill="#000" fill-opacity="0.45" filter="url(#b2)"/>
<rect x="90.67" y="309.37" width="10.37" height="4.86" rx="1.52" fill="#000" fill-opacity="0.85" filter="url(#b2)"/>
<rect x="101.12" y="309.37" width="10.37" height="4.86" rx="1.52" fill="#000" fill-opacity="0.95" filter="url(#b2)"/>
<rect x="111.57" y="309.37" width="10.37" height="4.86" rx="1.52" fill="#000" fill-opacity="0.95" filter="url(#b2)"/>
<rect x="57.9" y="322.8" width="65.6" height="11.8" fill="#fbfbfb" stroke="#111" stroke-width="1.5"/>
<rect x="59.42" y="326.58" width="10.15" height="4.05" rx="1.27" fill="#000" fill-opacity="0.95" filter="url(#b)"/>
<rect x="69.87" y="326.58" width="10.15" height="4.05" rx="1.27" fill="#000" fill-opacity="0.95" filter="url(#b)"/>
<rect x="80.32" y="326.58" width="10.15" height="4.05" rx="1.27" fill="#000" fill-opacity="0.95" filter="url(#b)"/>
<rect x="90.77" y="326.58" width="10.15" height="4.05" rx="1.27" fill="#000" fill-opacity="0.95" filter="url(#b)"/>
<rect x="101.22" y="326.58" width="10.15" height="4.05" rx="1.27" fill="#000" fill-opacity="0.95" filter="url(#b)"/>
<rect x="111.67" y="326.58" width="10.15" height="4.05" rx="1.27" fill="#000" fill-opacity="0.95" filter="url(#b)"/>
<rect x="128" y="224.7" width="65.5" height="15.1" fill="#fbfbfb" stroke="#111" stroke-width="1.5"/>
<rect x="130.6" y="227.81" width="7.99" height="2.97" rx="0.93" fill="#000" fill-opacity="0.85" filter="url(#b)"/>
<rect x="141.05" y="227.81" width="7.99" height="2.97" rx="0.93" fill="#000" fill-opacity="0.6" filter="url(#b)"/>
<rect x="151.5" y="227.81" width="7.99" height="2.97" rx="0.93" fill="#000" fill-opacity="0.45" filter="url(#b)"/>
<rect x="161.95" y="227.81" width="7.99" height="2.97" rx="0.93" fill="#000" fill-opacity="0.45" filter="url(#b)"/>
<rect x="172.4" y="227.81" width="7.99" height="2.97" rx="0.93" fill="#000" fill-opacity="0.85" filter="url(#b)"/>
<rect x="182.85" y="227.81" width="7.99" height="2.97" rx="0.93" fill="#000" fill-opacity="0.75" filter="url(#b)"/>
<rect x="130.6" y="233.01" width="7.99" height="2.97" rx="0.93" fill="#000" fill-opacity="0.1" filter="url(#b)"/>
<rect x="141.05" y="233.01" width="7.99" height="2.97" rx="0.93" fill="#000" fill-opacity="0.1" filter="url(#b)"/>
<rect x="151.5" y="233.01" width="7.99" height="2.97" rx="0.93" fill="#000" fill-opacity="0.1" filter="url(#b)"/>
<rect x="161.95" y="233.01" width="7.99" height="2.97" rx="0.93" fill="#000" fill-opacity="0.1" filter="url(#b)"/>
<rect x="172.4" y="233.01" width="7.99" height="2.97" rx="0.93" fill="#000" fill-opacity="0.1" filter="url(#b)"/>
<rect x="182.85" y="233.01" width="7.99" height="2.97" rx="0.93" fill="#000" fill-opacity="0.1" filter="url(#b)"/>
<rect x="128" y="243.6" width="65.5" height="14" fill="#fbfbfb" stroke="#111" stroke-width="1.5"/>
<rect x="129.31" y="249.51" width="10.58" height="3.78" rx="1.18" fill="#000" fill-opacity="0.95" filter="url(#b)"/>
<rect x="139.76" y="249.51" width="10.58" height="3.78" rx="1.18" fill="#000" fill-opacity="0.95" filter="url(#b)"/>
<rect x="150.21" y="249.51" width="10.58" height="3.78" rx="1.18" fill="#000" fill-opacity="0.95" filter="url(#b)"/>
<rect x="160.66" y="249.51" width="10.58" height="3.78" rx="1.18" fill="#000" fill-opacity="0.95" filter="url(#b)"/>
<rect x="171.11" y="249.51" width="10.58" height="3.78" rx="1.18" fill="#000" fill-opacity="0.95" filter="url(#b)"/>
<rect x="181.56" y="249.51" width="10.58" height="3.78" rx="1.18" fill="#000" fill-opacity="0.95" filter="url(#b)"/>
<rect x="128" y="261" width="65.5" height="12.8" fill="#fbfbfb" stroke="#111" stroke-width="1.5"/>
<rect x="129.96" y="266.11" width="9.29" height="3.78" rx="1.18" fill="#000" fill-opacity="0.5" filter="url(#b)"/>
<rect x="140.41" y="266.11" width="9.29" height="3.78" rx="1.18" fill="#000" fill-opacity="0.55" filter="url(#b)"/>
<rect x="150.86" y="266.11" width="9.29" height="3.78" rx="1.18" fill="#000" fill-opacity="0.6" filter="url(#b)"/>
<rect x="161.31" y="266.11" width="9.29" height="3.78" rx="1.18" fill="#000" fill-opacity="0.8" filter="url(#b)"/>
<rect x="171.76" y="266.11" width="9.29" height="3.78" rx="1.18" fill="#000" fill-opacity="0.95" filter="url(#b)"/>
<rect x="182.21" y="266.11" width="9.29" height="3.78" rx="1.18" fill="#000" fill-opacity="0.95" filter="url(#b)"/>
<rect x="128" y="277.8" width="65.5" height="22.8" fill="#fbfbfb" stroke="#111" stroke-width="1.5"/>
<rect x="129.96" y="280.75" width="9.29" height="3.51" rx="1.1" fill="#000" fill-opacity="0.9" filter="url(#b)"/>
<rect x="140.41" y="280.75" width="9.29" height="3.51" rx="1.1" fill="#000" fill-opacity="0.85" filter="url(#b)"/>
<rect x="150.86" y="280.75" width="9.29" height="3.51" rx="1.1" fill="#000" fill-opacity="0.9" filter="url(#b)"/>
<rect x="161.31" y="280.75" width="9.29" height="3.51" rx="1.1" fill="#000" fill-opacity="0.95" filter="url(#b)"/>
<rect x="171.76" y="280.75" width="9.29" height="3.51" rx="1.1" fill="#000" fill-opacity="1" filter="url(#b)"/>
<rect x="182.21" y="280.75" width="9.29" height="3.51" rx="1.1" fill="#000" fill-opacity="1" filter="url(#b)"/>
<rect x="130.6" y="291.59" width="7.99" height="2.03" rx="0.63" fill="#000" fill-opacity="0.3" filter="url(#b)"/>
<rect x="141.05" y="291.59" width="7.99" height="2.03" rx="0.63" fill="#000" fill-opacity="0.25" filter="url(#b)"/>
<rect x="151.5" y="291.59" width="7.99" height="2.03" rx="0.63" fill="#000" fill-opacity="0.3" filter="url(#b)"/>
<rect x="161.95" y="291.59" width="7.99" height="2.03" rx="0.63" fill="#000" fill-opacity="0.3" filter="url(#b)"/>
<rect x="172.4" y="291.59" width="7.99" height="2.03" rx="0.63" fill="#000" fill-opacity="0.5" filter="url(#b)"/>
<rect x="182.85" y="291.59" width="7.99" height="2.03" rx="0.63" fill="#000" fill-opacity="0.5" filter="url(#b)"/>
<rect x="130.82" y="296.19" width="7.56" height="1.62" rx="0.51" fill="#000" fill-opacity="0.05" filter="url(#b)"/>
<rect x="141.27" y="296.19" width="7.56" height="1.62" rx="0.51" fill="#000" fill-opacity="0.05" filter="url(#b)"/>
<rect x="151.72" y="296.19" width="7.56" height="1.62" rx="0.51" fill="#000" fill-opacity="0.05" filter="url(#b)"/>
<rect x="162.17" y="296.19" width="7.56" height="1.62" rx="0.51" fill="#000" fill-opacity="0.1" filter="url(#b)"/>
<rect x="172.62" y="296.19" width="7.56" height="1.62" rx="0.51" fill="#000" fill-opacity="0.2" filter="url(#b)"/>
<rect x="183.07" y="296.19" width="7.56" height="1.62" rx="0.51" fill="#000" fill-opacity="0.2" filter="url(#b)"/>
<rect x="128" y="304.5" width="65.5" height="14.3" fill="#fbfbfb" stroke="#111" stroke-width="1.5"/>
<rect x="131.63" y="313.52" width="5.94" height="1.76" rx="0.55" fill="#000" fill-opacity="0.85" filter="url(#b)"/>
<rect x="142.08" y="313.52" width="5.94" height="1.76" rx="0.55" fill="#000" fill-opacity="0.8" filter="url(#b)"/>
<rect x="152.53" y="313.52" width="5.94" height="1.76" rx="0.55" fill="#000" fill-opacity="0.85" filter="url(#b)"/>
<rect x="162.98" y="313.52" width="5.94" height="1.76" rx="0.55" fill="#000" fill-opacity="0.85" filter="url(#b)"/>
<rect x="173.43" y="313.52" width="5.94" height="1.76" rx="0.55" fill="#000" fill-opacity="0.7" filter="url(#b)"/>
<rect x="183.88" y="313.52" width="5.94" height="1.76" rx="0.55" fill="#000" fill-opacity="0.85" filter="url(#b)"/>
<rect x="128" y="322.8" width="65.5" height="11.8" fill="#fbfbfb" stroke="#111" stroke-width="1.5"/>
<rect x="129.52" y="326.58" width="10.15" height="4.05" rx="1.27" fill="#000" fill-opacity="0.95" filter="url(#b)"/>
<rect x="139.97" y="326.58" width="10.15" height="4.05" rx="1.27" fill="#000" fill-opacity="0.95" filter="url(#b)"/>
<rect x="150.42" y="326.58" width="10.15" height="4.05" rx="1.27" fill="#000" fill-opacity="0.95" filter="url(#b)"/>
<rect x="160.87" y="326.58" width="10.15" height="4.05" rx="1.27" fill="#000" fill-opacity="0.95" filter="url(#b)"/>
<rect x="171.32" y="326.58" width="10.15" height="4.05" rx="1.27" fill="#000" fill-opacity="0.95" filter="url(#b)"/>
<rect x="181.77" y="326.58" width="10.15" height="4.05" rx="1.27" fill="#000" fill-opacity="0.95" filter="url(#b)"/>
<rect x="197.9" y="224.7" width="65.4" height="15.1" fill="#fbfbfb" stroke="#111" stroke-width="1.5"/>
<rect x="200.5" y="228.21" width="7.99" height="2.97" rx="0.93" fill="#000" fill-opacity="0.85" filter="url(#b)"/>
<rect x="210.95" y="228.21" width="7.99" height="2.97" rx="0.93" fill="#000" fill-opacity="0.85" filter="url(#b)"/>
<rect x="221.4" y="228.21" width="7.99" height="2.97" rx="0.93" fill="#000" fill-opacity="0.85" filter="url(#b)"/>
<rect x="231.85" y="228.21" width="7.99" height="2.97" rx="0.93" fill="#000" fill-opacity="0.45" filter="url(#b)"/>
<rect x="242.3" y="228.21" width="7.99" height="2.97" rx="0.93" fill="#000" fill-opacity="0.25" filter="url(#b)"/>
<rect x="252.75" y="228.21" width="7.99" height="2.97" rx="0.93" fill="#000" fill-opacity="0.05" filter="url(#b)"/>
<rect x="200.5" y="232.41" width="7.99" height="2.97" rx="0.93" fill="#000" fill-opacity="0.15" filter="url(#b)"/>
<rect x="210.95" y="232.41" width="7.99" height="2.97" rx="0.93" fill="#000" fill-opacity="0.1" filter="url(#b)"/>
<rect x="221.4" y="232.41" width="7.99" height="2.97" rx="0.93" fill="#000" fill-opacity="0.15" filter="url(#b)"/>
<rect x="231.85" y="232.41" width="7.99" height="2.97" rx="0.93" fill="#000" fill-opacity="0.85" filter="url(#b)"/>
<rect x="242.3" y="232.41" width="7.99" height="2.97" rx="0.93" fill="#000" fill-opacity="0.85" filter="url(#b)"/>
<rect x="252.75" y="232.41" width="7.99" height="2.97" rx="0.93" fill="#000" fill-opacity="1.0" filter="url(#b)"/>
<rect x="197.9" y="243.6" width="65.4" height="14" fill="#fbfbfb" stroke="#111" stroke-width="1.5"/>
<rect x="199.21" y="248.65" width="10.58" height="3.51" rx="1.1" fill="#000" fill-opacity="0.95" filter="url(#b)"/>
<rect x="209.66" y="248.65" width="10.58" height="3.51" rx="1.1" fill="#000" fill-opacity="0.95" filter="url(#b)"/>
<rect x="220.11" y="248.65" width="10.58" height="3.51" rx="1.1" fill="#000" fill-opacity="0.95" filter="url(#b)"/>
<rect x="230.56" y="248.65" width="10.58" height="3.51" rx="1.1" fill="#000" fill-opacity="0.95" filter="url(#b)"/>
<rect x="241.01" y="248.65" width="10.58" height="3.51" rx="1.1" fill="#000" fill-opacity="0.95" filter="url(#b)"/>
<rect x="251.46" y="248.65" width="10.58" height="3.51" rx="1.1" fill="#000" fill-opacity="0.95" filter="url(#b)"/>
<rect x="197.9" y="261" width="65.4" height="12.8" fill="#fbfbfb" stroke="#111" stroke-width="1.5"/>
<rect x="199.86" y="265.21" width="9.29" height="3.78" rx="1.18" fill="#000" fill-opacity="0.95" filter="url(#b)"/>
<rect x="210.31" y="265.21" width="9.29" height="3.78" rx="1.18" fill="#000" fill-opacity="0.95" filter="url(#b)"/>
<rect x="220.76" y="265.21" width="9.29" height="3.78" rx="1.18" fill="#000" fill-opacity="0.95" filter="url(#b)"/>
<rect x="231.21" y="265.21" width="9.29" height="3.78" rx="1.18" fill="#000" fill-opacity="0.9" filter="url(#b)"/>
<rect x="241.66" y="265.21" width="9.29" height="3.78" rx="1.18" fill="#000" fill-opacity="0.8" filter="url(#b)"/>
<rect x="252.11" y="265.21" width="9.29" height="3.78" rx="1.18" fill="#000" fill-opacity="0.45" filter="url(#b)"/>
<rect x="197.9" y="277.8" width="65.4" height="22.8" fill="#fbfbfb" stroke="#111" stroke-width="1.5"/>
<rect x="199.86" y="280.1" width="9.29" height="5.4" rx="1.69" fill="#000" fill-opacity="1" filter="url(#b)"/>
<rect x="210.31" y="280.1" width="9.29" height="5.4" rx="1.69" fill="#000" fill-opacity="1" filter="url(#b)"/>
<rect x="220.76" y="280.1" width="9.29" height="5.4" rx="1.69" fill="#000" fill-opacity="1" filter="url(#b)"/>
<rect x="231.21" y="280.37" width="9.29" height="4.86" rx="1.52" fill="#000" fill-opacity="0.95" filter="url(#b)"/>
<rect x="241.66" y="281.05" width="9.29" height="3.51" rx="1.1" fill="#000" fill-opacity="0.9" filter="url(#b)"/>
<rect x="252.11" y="281.31" width="9.29" height="2.97" rx="0.93" fill="#000" fill-opacity="0.85" filter="url(#b)"/>
<rect x="200.5" y="290.89" width="7.99" height="2.03" rx="0.63" fill="#000" fill-opacity="0.35" filter="url(#b)"/>
<rect x="210.95" y="290.89" width="7.99" height="2.03" rx="0.63" fill="#000" fill-opacity="0.35" filter="url(#b)"/>
<rect x="221.4" y="290.89" width="7.99" height="2.03" rx="0.63" fill="#000" fill-opacity="0.45" filter="url(#b)"/>
<rect x="231.85" y="290.89" width="7.99" height="2.03" rx="0.63" fill="#000" fill-opacity="0.35" filter="url(#b)"/>
<rect x="242.3" y="290.89" width="7.99" height="2.03" rx="0.63" fill="#000" fill-opacity="0.2" filter="url(#b)"/>
<rect x="252.75" y="290.89" width="7.99" height="2.03" rx="0.63" fill="#000" fill-opacity="0.15" filter="url(#b)"/>
<rect x="200.72" y="294.29" width="7.56" height="1.62" rx="0.51" fill="#000" fill-opacity="0.25" filter="url(#b)"/>
<rect x="211.17" y="294.29" width="7.56" height="1.62" rx="0.51" fill="#000" fill-opacity="0.25" filter="url(#b)"/>
<rect x="221.62" y="294.29" width="7.56" height="1.62" rx="0.51" fill="#000" fill-opacity="0.2" filter="url(#b)"/>
<rect x="232.07" y="294.29" width="7.56" height="1.62" rx="0.51" fill="#000" fill-opacity="0.1" filter="url(#b)"/>
<rect x="242.52" y="294.29" width="7.56" height="1.62" rx="0.51" fill="#000" fill-opacity="0.1" filter="url(#b)"/>
<rect x="252.97" y="294.29" width="7.56" height="1.62" rx="0.51" fill="#000" fill-opacity="0.05" filter="url(#b)"/>
<rect x="197.9" y="304.5" width="65.4" height="14.3" fill="#fbfbfb" stroke="#111" stroke-width="1.5"/>
<rect x="199.32" y="309.57" width="10.37" height="4.86" rx="1.52" fill="#000" fill-opacity="0.1" filter="url(#b2)"/>
<rect x="209.77" y="309.57" width="10.37" height="4.86" rx="1.52" fill="#000" fill-opacity="0.1" filter="url(#b2)"/>
<rect x="220.22" y="309.57" width="10.37" height="4.86" rx="1.52" fill="#000" fill-opacity="0.3" filter="url(#b2)"/>
<rect x="230.67" y="309.57" width="10.37" height="4.86" rx="1.52" fill="#000" fill-opacity="0.6" filter="url(#b2)"/>
<rect x="241.12" y="309.57" width="10.37" height="4.86" rx="1.52" fill="#000" fill-opacity="0.75" filter="url(#b2)"/>
<rect x="251.57" y="309.57" width="10.37" height="4.86" rx="1.52" fill="#000" fill-opacity="0.85" filter="url(#b2)"/>
<rect x="197.9" y="322.8" width="65.4" height="11.8" fill="#fbfbfb" stroke="#111" stroke-width="1.5"/>
<rect x="199.42" y="326.58" width="10.15" height="4.05" rx="1.27" fill="#000" fill-opacity="0.95" filter="url(#b)"/>
<rect x="209.87" y="326.58" width="10.15" height="4.05" rx="1.27" fill="#000" fill-opacity="0.95" filter="url(#b)"/>
<rect x="220.32" y="326.58" width="10.15" height="4.05" rx="1.27" fill="#000" fill-opacity="0.95" filter="url(#b)"/>
<rect x="230.77" y="326.58" width="10.15" height="4.05" rx="1.27" fill="#000" fill-opacity="0.95" filter="url(#b)"/>
<rect x="241.22" y="326.58" width="10.15" height="4.05" rx="1.27" fill="#000" fill-opacity="0.95" filter="url(#b)"/>
<rect x="251.67" y="326.58" width="10.15" height="4.05" rx="1.27" fill="#000" fill-opacity="0.95" filter="url(#b)"/>
<rect x="267.5" y="224.7" width="65" height="15.1" fill="#fbfbfb" stroke="#111" stroke-width="1.5"/>
<rect x="270.1" y="227.31" width="7.99" height="2.97" rx="0.93" fill="#000" fill-opacity="0.9" filter="url(#b)"/>
<rect x="280.55" y="227.31" width="7.99" height="2.97" rx="0.93" fill="#000" fill-opacity="0.9" filter="url(#b)"/>
<rect x="291" y="227.31" width="7.99" height="2.97" rx="0.93" fill="#000" fill-opacity="0.2" filter="url(#b)"/>
<rect x="270.1" y="232.61" width="7.99" height="2.97" rx="0.93" fill="#000" fill-opacity="0.05" filter="url(#b)"/>
<rect x="280.55" y="232.61" width="7.99" height="2.97" rx="0.93" fill="#000" fill-opacity="0.9" filter="url(#b)"/>
<rect x="291" y="232.61" width="7.99" height="2.97" rx="0.93" fill="#000" fill-opacity="0.95" filter="url(#b)"/>
<rect x="301.45" y="232.61" width="7.99" height="2.97" rx="0.93" fill="#000" fill-opacity="0.95" filter="url(#b)"/>
<rect x="311.9" y="232.61" width="7.99" height="2.97" rx="0.93" fill="#000" fill-opacity="0.95" filter="url(#b)"/>
<rect x="322.35" y="232.61" width="7.99" height="2.97" rx="0.93" fill="#000" fill-opacity="0.9" filter="url(#b)"/>
<rect x="267.5" y="243.6" width="65" height="14" fill="#fbfbfb" stroke="#111" stroke-width="1.5"/>
<rect x="268.81" y="249.51" width="10.58" height="3.78" rx="1.18" fill="#000" fill-opacity="1" filter="url(#b)"/>
<rect x="279.26" y="249.51" width="10.58" height="3.78" rx="1.18" fill="#000" fill-opacity="1" filter="url(#b)"/>
<rect x="289.71" y="249.51" width="10.58" height="3.78" rx="1.18" fill="#000" fill-opacity="0.9" filter="url(#b)"/>
<rect x="300.16" y="249.51" width="10.58" height="3.78" rx="1.18" fill="#000" fill-opacity="0.9" filter="url(#b)"/>
<rect x="310.61" y="249.51" width="10.58" height="3.78" rx="1.18" fill="#000" fill-opacity="0.9" filter="url(#b)"/>
<rect x="321.06" y="249.51" width="10.58" height="3.78" rx="1.18" fill="#000" fill-opacity="0.85" filter="url(#b)"/>
<rect x="267.5" y="261" width="65" height="12.8" fill="#fbfbfb" stroke="#111" stroke-width="1.5"/>
<rect x="269.46" y="265.21" width="9.29" height="3.78" rx="1.18" fill="#000" fill-opacity="0.95" filter="url(#b)"/>
<rect x="279.91" y="265.21" width="9.29" height="3.78" rx="1.18" fill="#000" fill-opacity="0.95" filter="url(#b)"/>
<rect x="290.36" y="265.21" width="9.29" height="3.78" rx="1.18" fill="#000" fill-opacity="0.9" filter="url(#b)"/>
<rect x="300.81" y="265.21" width="9.29" height="3.78" rx="1.18" fill="#000" fill-opacity="0.45" filter="url(#b)"/>
<rect x="311.26" y="265.21" width="9.29" height="3.78" rx="1.18" fill="#000" fill-opacity="0.1" filter="url(#b)"/>
<rect x="321.71" y="265.21" width="9.29" height="3.78" rx="1.18" fill="#000" fill-opacity="0.1" filter="url(#b)"/>
<rect x="267.5" y="277.8" width="65" height="22.8" fill="#fbfbfb" stroke="#111" stroke-width="1.5"/>
<rect x="269.46" y="280.21" width="9.29" height="3.78" rx="1.18" fill="#000" fill-opacity="1" filter="url(#b)"/>
<rect x="279.91" y="279.94" width="9.29" height="4.32" rx="1.35" fill="#000" fill-opacity="1" filter="url(#b)"/>
<rect x="290.36" y="280.35" width="9.29" height="3.51" rx="1.1" fill="#000" fill-opacity="0.9" filter="url(#b)"/>
<rect x="300.81" y="280.62" width="9.29" height="2.97" rx="0.93" fill="#000" fill-opacity="0.75" filter="url(#b)"/>
<rect x="311.26" y="280.62" width="9.29" height="2.97" rx="0.93" fill="#000" fill-opacity="0.75" filter="url(#b)"/>
<rect x="321.71" y="280.89" width="9.29" height="2.43" rx="0.76" fill="#000" fill-opacity="0.5" filter="url(#b)"/>
<rect x="270.1" y="292.29" width="7.99" height="2.03" rx="0.63" fill="#000" fill-opacity="0.15" filter="url(#b)"/>
<rect x="280.55" y="292.29" width="7.99" height="2.03" rx="0.63" fill="#000" fill-opacity="0.5" filter="url(#b)"/>
<rect x="291" y="292.29" width="7.99" height="2.03" rx="0.63" fill="#000" fill-opacity="0.5" filter="url(#b)"/>
<rect x="301.45" y="292.29" width="7.99" height="2.03" rx="0.63" fill="#000" fill-opacity="0.5" filter="url(#b)"/>
<rect x="311.9" y="292.29" width="7.99" height="2.03" rx="0.63" fill="#000" fill-opacity="0.6" filter="url(#b)"/>
<rect x="322.35" y="292.29" width="7.99" height="2.03" rx="0.63" fill="#000" fill-opacity="0.5" filter="url(#b)"/>
<rect x="270.32" y="295.39" width="7.56" height="1.62" rx="0.51" fill="#000" fill-opacity="0.05" filter="url(#b)"/>
<rect x="280.77" y="295.39" width="7.56" height="1.62" rx="0.51" fill="#000" fill-opacity="0.1" filter="url(#b)"/>
<rect x="291.22" y="295.39" width="7.56" height="1.62" rx="0.51" fill="#000" fill-opacity="0.1" filter="url(#b)"/>
<rect x="301.67" y="295.39" width="7.56" height="1.62" rx="0.51" fill="#000" fill-opacity="0.3" filter="url(#b)"/>
<rect x="312.12" y="295.39" width="7.56" height="1.62" rx="0.51" fill="#000" fill-opacity="0.55" filter="url(#b)"/>
<rect x="322.57" y="295.39" width="7.56" height="1.62" rx="0.51" fill="#000" fill-opacity="0.45" filter="url(#b)"/>
<rect x="267.5" y="304.5" width="65" height="14.3" fill="#fbfbfb" stroke="#111" stroke-width="1.5"/>
<rect x="268.92" y="307.97" width="10.37" height="5.67" rx="1.77" fill="#000" fill-opacity="0.15" filter="url(#b2)"/>
<rect x="279.37" y="307.97" width="10.37" height="5.67" rx="1.77" fill="#000" fill-opacity="0.55" filter="url(#b2)"/>
<rect x="289.82" y="307.97" width="10.37" height="5.67" rx="1.77" fill="#000" fill-opacity="0.95" filter="url(#b2)"/>
<rect x="300.27" y="307.97" width="10.37" height="5.67" rx="1.77" fill="#000" fill-opacity="1" filter="url(#b2)"/>
<rect x="310.72" y="307.97" width="10.37" height="5.67" rx="1.77" fill="#000" fill-opacity="0.95" filter="url(#b2)"/>
<rect x="321.17" y="307.97" width="10.37" height="5.67" rx="1.77" fill="#000" fill-opacity="0.95" filter="url(#b2)"/>
<rect x="267.5" y="322.8" width="65" height="11.8" fill="#fbfbfb" stroke="#111" stroke-width="1.5"/>
<rect x="269.02" y="326.58" width="10.15" height="4.05" rx="1.27" fill="#000" fill-opacity="0.95" filter="url(#b)"/>
<rect x="279.47" y="326.58" width="10.15" height="4.05" rx="1.27" fill="#000" fill-opacity="0.95" filter="url(#b)"/>
<rect x="289.92" y="326.58" width="10.15" height="4.05" rx="1.27" fill="#000" fill-opacity="0.95" filter="url(#b)"/>
<rect x="300.37" y="326.58" width="10.15" height="4.05" rx="1.27" fill="#000" fill-opacity="0.95" filter="url(#b)"/>
<rect x="310.82" y="326.58" width="10.15" height="4.05" rx="1.27" fill="#000" fill-opacity="0.95" filter="url(#b)"/>
<rect x="321.27" y="326.58" width="10.15" height="4.05" rx="1.27" fill="#000" fill-opacity="0.95" filter="url(#b)"/>
<text x="53.2" y="229.5" font-size="6.8" text-anchor="end">PARP</text>
<text x="53.2" y="238.3" font-size="6.8" text-anchor="end" textLength="45.4" lengthAdjust="spacingAndGlyphs">Cleaved-PARP</text>
<text x="53.2" y="253.3" font-size="6.8" text-anchor="end">Bcl-2</text>
<text x="53.2" y="269.2" font-size="6.8" text-anchor="end">Mcl-1</text>
<text x="53.2" y="283.7" font-size="6.8" text-anchor="end">Bim<tspan font-size="74%" dy="0.42em">EL</tspan></text>
<text x="53.2" y="296" font-size="6.8" text-anchor="end">Bim<tspan font-size="74%" dy="0.42em">L/S</tspan></text>
<text x="53.2" y="313.9" font-size="6.8" text-anchor="end">NOXA</text>
<text x="53.2" y="330.5" font-size="6.8" text-anchor="end">β-actin</text>
<line x1="393" y1="165.5" x2="393" y2="228.9" stroke="#1a1a1a" stroke-width="1.2"/>
<line x1="390" y1="228.4" x2="393" y2="228.4" stroke="#1a1a1a" stroke-width="0.9"/>
<text x="386.3" y="230.63" font-size="6.2" text-anchor="end">0.0</text>
<line x1="390" y1="216.32" x2="393" y2="216.32" stroke="#1a1a1a" stroke-width="0.9"/>
<text x="386.3" y="218.55" font-size="6.2" text-anchor="end">0.5</text>
<line x1="390" y1="204.24" x2="393" y2="204.24" stroke="#1a1a1a" stroke-width="0.9"/>
<text x="386.3" y="206.47" font-size="6.2" text-anchor="end">1.0</text>
<line x1="390" y1="192.16" x2="393" y2="192.16" stroke="#1a1a1a" stroke-width="0.9"/>
<text x="386.3" y="194.39" font-size="6.2" text-anchor="end">1.5</text>
<line x1="390" y1="180.08" x2="393" y2="180.08" stroke="#1a1a1a" stroke-width="0.9"/>
<text x="386.3" y="182.31" font-size="6.2" text-anchor="end">2.0</text>
<line x1="390" y1="168" x2="393" y2="168" stroke="#1a1a1a" stroke-width="0.9"/>
<text x="386.3" y="170.23" font-size="6.2" text-anchor="end">2.5</text>
<line x1="393" y1="228.4" x2="512" y2="228.4" stroke="#1a1a1a" stroke-width="1.2"/>
<text x="358.5" y="196.2" font-size="8.0" text-anchor="middle" font-weight="bold" textLength="81.6" lengthAdjust="spacingAndGlyphs" transform="rotate(-90 358.5 196.2)">Relative expression of Mcl-1</text>
<text x="370" y="196.3" font-size="8.0" text-anchor="middle" font-weight="bold" textLength="32" lengthAdjust="spacingAndGlyphs" transform="rotate(-90 370 196.3)">(% of Con)</text>
<rect x="395.5" y="165.05" width="6" height="2.5" fill="#2fb46a"/>
<text x="405.6" y="168.8" font-size="7.2">DHA</text>
<rect x="395.5" y="173.05" width="6" height="2.5" fill="#f5a623"/>
<text x="405.6" y="176.8" font-size="7.2">VEN</text>
<rect x="395.5" y="181.05" width="6" height="2.5" fill="#1d6aa5"/>
<text x="405.6" y="184.8" font-size="7.2">DHA + VEN</text>
<rect x="395.5" y="189.05" width="6" height="2.5" fill="#e8173e"/>
<text x="405.6" y="192.8" font-size="7.2">A1</text>
<line x1="396.8" y1="204.96" x2="396.8" y2="203.76" stroke="#2fb46a" stroke-width="0.6"/>
<line x1="396.1" y1="203.76" x2="397.5" y2="203.76" stroke="#2fb46a" stroke-width="0.6"/>
<rect x="395.15" y="204.96" width="3.3" height="23.44" fill="#2fb46a"/>
<line x1="396.8" y1="228.4" x2="396.8" y2="231.6" stroke="#1a1a1a" stroke-width="0.9"/>
<text x="398.1" y="235.4" font-size="4.2" text-anchor="end" textLength="2.4" lengthAdjust="spacingAndGlyphs" transform="rotate(-90 398.1 235.4)">0</text>
<line x1="401.22" y1="204.96" x2="401.22" y2="203.03" stroke="#2fb46a" stroke-width="0.6"/>
<line x1="400.52" y1="203.03" x2="401.92" y2="203.03" stroke="#2fb46a" stroke-width="0.6"/>
<rect x="399.57" y="204.96" width="3.3" height="23.44" fill="#2fb46a"/>
<line x1="401.22" y1="228.4" x2="401.22" y2="231.6" stroke="#1a1a1a" stroke-width="0.9"/>
<text x="402.52" y="235.4" font-size="4.2" text-anchor="end" textLength="6.2" lengthAdjust="spacingAndGlyphs" transform="rotate(-90 402.52 235.4)">0.2</text>
<line x1="405.64" y1="204.48" x2="405.64" y2="202.55" stroke="#2fb46a" stroke-width="0.6"/>
<line x1="404.94" y1="202.55" x2="406.34" y2="202.55" stroke="#2fb46a" stroke-width="0.6"/>
<rect x="403.99" y="204.48" width="3.3" height="23.92" fill="#2fb46a"/>
<line x1="405.64" y1="228.4" x2="405.64" y2="231.6" stroke="#1a1a1a" stroke-width="0.9"/>
<text x="406.94" y="235.4" font-size="4.2" text-anchor="end" textLength="6.2" lengthAdjust="spacingAndGlyphs" transform="rotate(-90 406.94 235.4)">0.4</text>
<line x1="410.06" y1="204.96" x2="410.06" y2="203.76" stroke="#2fb46a" stroke-width="0.6"/>
<line x1="409.36" y1="203.76" x2="410.76" y2="203.76" stroke="#2fb46a" stroke-width="0.6"/>
<rect x="408.41" y="204.96" width="3.3" height="23.44" fill="#2fb46a"/>
<line x1="410.06" y1="228.4" x2="410.06" y2="231.6" stroke="#1a1a1a" stroke-width="0.9"/>
<text x="411.36" y="235.4" font-size="4.2" text-anchor="end" textLength="6.2" lengthAdjust="spacingAndGlyphs" transform="rotate(-90 411.36 235.4)">0.8</text>
<line x1="414.48" y1="204.96" x2="414.48" y2="203.76" stroke="#2fb46a" stroke-width="0.6"/>
<line x1="413.78" y1="203.76" x2="415.18" y2="203.76" stroke="#2fb46a" stroke-width="0.6"/>
<rect x="412.83" y="204.96" width="3.3" height="23.44" fill="#2fb46a"/>
<line x1="414.48" y1="228.4" x2="414.48" y2="231.6" stroke="#1a1a1a" stroke-width="0.9"/>
<text x="415.78" y="235.4" font-size="4.2" text-anchor="end" textLength="6.2" lengthAdjust="spacingAndGlyphs" transform="rotate(-90 415.78 235.4)">1.6</text>
<line x1="418.9" y1="205.69" x2="418.9" y2="204.24" stroke="#2fb46a" stroke-width="0.6"/>
<line x1="418.2" y1="204.24" x2="419.6" y2="204.24" stroke="#2fb46a" stroke-width="0.6"/>
<rect x="417.25" y="205.69" width="3.3" height="22.71" fill="#2fb46a"/>
<line x1="418.9" y1="228.4" x2="418.9" y2="231.6" stroke="#1a1a1a" stroke-width="0.9"/>
<text x="420.2" y="235.4" font-size="4.2" text-anchor="end" textLength="6.2" lengthAdjust="spacingAndGlyphs" transform="rotate(-90 420.2 235.4)">3.2</text>
<line x1="426.6" y1="204.72" x2="426.6" y2="204.24" stroke="#f5a623" stroke-width="0.6"/>
<line x1="425.9" y1="204.24" x2="427.3" y2="204.24" stroke="#f5a623" stroke-width="0.6"/>
<rect x="424.95" y="204.72" width="3.3" height="23.68" fill="#f5a623"/>
<line x1="426.6" y1="228.4" x2="426.6" y2="231.6" stroke="#1a1a1a" stroke-width="0.9"/>
<text x="427.9" y="235.4" font-size="4.2" text-anchor="end" textLength="2.4" lengthAdjust="spacingAndGlyphs" transform="rotate(-90 427.9 235.4)">0</text>
<line x1="431.02" y1="199.65" x2="431.02" y2="196.99" stroke="#f5a623" stroke-width="0.6"/>
<line x1="430.32" y1="196.99" x2="431.72" y2="196.99" stroke="#f5a623" stroke-width="0.6"/>
<rect x="429.37" y="199.65" width="3.3" height="28.75" fill="#f5a623"/>
<line x1="431.02" y1="228.4" x2="431.02" y2="231.6" stroke="#1a1a1a" stroke-width="0.9"/>
<text x="432.32" y="235.4" font-size="4.2" text-anchor="end" textLength="6.2" lengthAdjust="spacingAndGlyphs" transform="rotate(-90 432.32 235.4)">0.2</text>
<line x1="435.44" y1="200.86" x2="435.44" y2="198.92" stroke="#f5a623" stroke-width="0.6"/>
<line x1="434.74" y1="198.92" x2="436.14" y2="198.92" stroke="#f5a623" stroke-width="0.6"/>
<rect x="433.79" y="200.86" width="3.3" height="27.54" fill="#f5a623"/>
<line x1="435.44" y1="228.4" x2="435.44" y2="231.6" stroke="#1a1a1a" stroke-width="0.9"/>
<text x="436.74" y="235.4" font-size="4.2" text-anchor="end" textLength="6.2" lengthAdjust="spacingAndGlyphs" transform="rotate(-90 436.74 235.4)">0.4</text>
<line x1="439.86" y1="198.2" x2="439.86" y2="195.78" stroke="#f5a623" stroke-width="0.6"/>
<line x1="439.16" y1="195.78" x2="440.56" y2="195.78" stroke="#f5a623" stroke-width="0.6"/>
<rect x="438.21" y="198.2" width="3.3" height="30.2" fill="#f5a623"/>
<line x1="439.86" y1="228.4" x2="439.86" y2="231.6" stroke="#1a1a1a" stroke-width="0.9"/>
<text x="441.16" y="235.4" font-size="4.2" text-anchor="end" textLength="6.2" lengthAdjust="spacingAndGlyphs" transform="rotate(-90 441.16 235.4)">0.8</text>
<line x1="444.28" y1="195.78" x2="444.28" y2="183.7" stroke="#f5a623" stroke-width="0.6"/>
<line x1="443.58" y1="183.7" x2="444.98" y2="183.7" stroke="#f5a623" stroke-width="0.6"/>
<rect x="442.63" y="195.78" width="3.3" height="32.62" fill="#f5a623"/>
<line x1="444.28" y1="228.4" x2="444.28" y2="231.6" stroke="#1a1a1a" stroke-width="0.9"/>
<text x="445.58" y="235.4" font-size="4.2" text-anchor="end" textLength="6.2" lengthAdjust="spacingAndGlyphs" transform="rotate(-90 445.58 235.4)">1.6</text>
<line x1="448.7" y1="202.07" x2="448.7" y2="184.43" stroke="#f5a623" stroke-width="0.6"/>
<line x1="448" y1="184.43" x2="449.4" y2="184.43" stroke="#f5a623" stroke-width="0.6"/>
<rect x="447.05" y="202.07" width="3.3" height="26.33" fill="#f5a623"/>
<line x1="448.7" y1="228.4" x2="448.7" y2="231.6" stroke="#1a1a1a" stroke-width="0.9"/>
<text x="450" y="235.4" font-size="4.2" text-anchor="end" textLength="6.2" lengthAdjust="spacingAndGlyphs" transform="rotate(-90 450 235.4)">3.2</text>
<line x1="456.3" y1="204.96" x2="456.3" y2="204.24" stroke="#1d6aa5" stroke-width="0.6"/>
<line x1="455.6" y1="204.24" x2="457" y2="204.24" stroke="#1d6aa5" stroke-width="0.6"/>
<rect x="454.65" y="204.96" width="3.3" height="23.44" fill="#1d6aa5"/>
<line x1="456.3" y1="228.4" x2="456.3" y2="231.6" stroke="#1a1a1a" stroke-width="0.9"/>
<text x="457.6" y="235.4" font-size="4.2" text-anchor="end" textLength="2.4" lengthAdjust="spacingAndGlyphs" transform="rotate(-90 457.6 235.4)">0</text>
<line x1="460.72" y1="202.55" x2="460.72" y2="200.86" stroke="#1d6aa5" stroke-width="0.6"/>
<line x1="460.02" y1="200.86" x2="461.42" y2="200.86" stroke="#1d6aa5" stroke-width="0.6"/>
<rect x="459.07" y="202.55" width="3.3" height="25.85" fill="#1d6aa5"/>
<line x1="460.72" y1="228.4" x2="460.72" y2="231.6" stroke="#1a1a1a" stroke-width="0.9"/>
<text x="462.02" y="235.4" font-size="4.2" text-anchor="end" textLength="6.2" lengthAdjust="spacingAndGlyphs" transform="rotate(-90 462.02 235.4)">0.2</text>
<line x1="465.14" y1="202.55" x2="465.14" y2="200.86" stroke="#1d6aa5" stroke-width="0.6"/>
<line x1="464.44" y1="200.86" x2="465.84" y2="200.86" stroke="#1d6aa5" stroke-width="0.6"/>
<rect x="463.49" y="202.55" width="3.3" height="25.85" fill="#1d6aa5"/>
<line x1="465.14" y1="228.4" x2="465.14" y2="231.6" stroke="#1a1a1a" stroke-width="0.9"/>
<text x="466.44" y="235.4" font-size="4.2" text-anchor="end" textLength="6.2" lengthAdjust="spacingAndGlyphs" transform="rotate(-90 466.44 235.4)">0.4</text>
<line x1="469.56" y1="205.45" x2="469.56" y2="203.52" stroke="#1d6aa5" stroke-width="0.6"/>
<line x1="468.86" y1="203.52" x2="470.26" y2="203.52" stroke="#1d6aa5" stroke-width="0.6"/>
<rect x="467.91" y="205.45" width="3.3" height="22.95" fill="#1d6aa5"/>
<line x1="469.56" y1="228.4" x2="469.56" y2="231.6" stroke="#1a1a1a" stroke-width="0.9"/>
<text x="470.86" y="235.4" font-size="4.2" text-anchor="end" textLength="6.2" lengthAdjust="spacingAndGlyphs" transform="rotate(-90 470.86 235.4)">0.8</text>
<line x1="473.98" y1="205.45" x2="473.98" y2="202.79" stroke="#1d6aa5" stroke-width="0.6"/>
<line x1="473.28" y1="202.79" x2="474.68" y2="202.79" stroke="#1d6aa5" stroke-width="0.6"/>
<rect x="472.33" y="205.45" width="3.3" height="22.95" fill="#1d6aa5"/>
<line x1="473.98" y1="228.4" x2="473.98" y2="231.6" stroke="#1a1a1a" stroke-width="0.9"/>
<text x="475.28" y="235.4" font-size="4.2" text-anchor="end" textLength="6.2" lengthAdjust="spacingAndGlyphs" transform="rotate(-90 475.28 235.4)">1.6</text>
<line x1="478.4" y1="213.18" x2="478.4" y2="210.28" stroke="#1d6aa5" stroke-width="0.6"/>
<line x1="477.7" y1="210.28" x2="479.1" y2="210.28" stroke="#1d6aa5" stroke-width="0.6"/>
<rect x="476.75" y="213.18" width="3.3" height="15.22" fill="#1d6aa5"/>
<line x1="478.4" y1="228.4" x2="478.4" y2="231.6" stroke="#1a1a1a" stroke-width="0.9"/>
<text x="479.4" y="211.48" font-size="6.6" text-anchor="middle">**</text>
<text x="479.7" y="235.4" font-size="4.2" text-anchor="end" textLength="6.2" lengthAdjust="spacingAndGlyphs" transform="rotate(-90 479.7 235.4)">3.2</text>
<line x1="486.3" y1="204.96" x2="486.3" y2="204.24" stroke="#e8173e" stroke-width="0.6"/>
<line x1="485.6" y1="204.24" x2="487" y2="204.24" stroke="#e8173e" stroke-width="0.6"/>
<rect x="484.65" y="204.96" width="3.3" height="23.44" fill="#e8173e"/>
<line x1="486.3" y1="228.4" x2="486.3" y2="231.6" stroke="#1a1a1a" stroke-width="0.9"/>
<text x="487.6" y="235.4" font-size="4.2" text-anchor="end" textLength="2.4" lengthAdjust="spacingAndGlyphs" transform="rotate(-90 487.6 235.4)">0</text>
<line x1="490.72" y1="204.96" x2="490.72" y2="204.24" stroke="#e8173e" stroke-width="0.6"/>
<line x1="490.02" y1="204.24" x2="491.42" y2="204.24" stroke="#e8173e" stroke-width="0.6"/>
<rect x="489.07" y="204.96" width="3.3" height="23.44" fill="#e8173e"/>
<line x1="490.72" y1="228.4" x2="490.72" y2="231.6" stroke="#1a1a1a" stroke-width="0.9"/>
<text x="492.02" y="235.4" font-size="4.2" text-anchor="end" textLength="6.2" lengthAdjust="spacingAndGlyphs" transform="rotate(-90 492.02 235.4)">0.2</text>
<line x1="495.14" y1="217.04" x2="495.14" y2="206.9" stroke="#e8173e" stroke-width="0.6"/>
<line x1="494.44" y1="206.9" x2="495.84" y2="206.9" stroke="#e8173e" stroke-width="0.6"/>
<rect x="493.49" y="217.04" width="3.3" height="11.36" fill="#e8173e"/>
<line x1="495.14" y1="228.4" x2="495.14" y2="231.6" stroke="#1a1a1a" stroke-width="0.9"/>
<text x="496.44" y="235.4" font-size="4.2" text-anchor="end" textLength="6.2" lengthAdjust="spacingAndGlyphs" transform="rotate(-90 496.44 235.4)">0.4</text>
<line x1="499.56" y1="223.08" x2="499.56" y2="215.6" stroke="#e8173e" stroke-width="0.6"/>
<line x1="498.86" y1="215.6" x2="500.26" y2="215.6" stroke="#e8173e" stroke-width="0.6"/>
<rect x="497.91" y="223.08" width="3.3" height="5.32" fill="#e8173e"/>
<line x1="499.56" y1="228.4" x2="499.56" y2="231.6" stroke="#1a1a1a" stroke-width="0.9"/>
<text x="500.56" y="216.8" font-size="6.6" text-anchor="middle">**</text>
<text x="500.86" y="235.4" font-size="4.2" text-anchor="end" textLength="6.2" lengthAdjust="spacingAndGlyphs" transform="rotate(-90 500.86 235.4)">0.8</text>
<line x1="503.98" y1="224.29" x2="503.98" y2="219.46" stroke="#e8173e" stroke-width="0.6"/>
<line x1="503.28" y1="219.46" x2="504.68" y2="219.46" stroke="#e8173e" stroke-width="0.6"/>
<rect x="502.33" y="224.29" width="3.3" height="4.11" fill="#e8173e"/>
<line x1="503.98" y1="228.4" x2="503.98" y2="231.6" stroke="#1a1a1a" stroke-width="0.9"/>
<text x="504.98" y="220.66" font-size="6.6" text-anchor="middle">**</text>
<text x="505.28" y="235.4" font-size="4.2" text-anchor="end" textLength="6.2" lengthAdjust="spacingAndGlyphs" transform="rotate(-90 505.28 235.4)">1.6</text>
<line x1="508.4" y1="224.29" x2="508.4" y2="219.46" stroke="#e8173e" stroke-width="0.6"/>
<line x1="507.7" y1="219.46" x2="509.1" y2="219.46" stroke="#e8173e" stroke-width="0.6"/>
<rect x="506.75" y="224.29" width="3.3" height="4.11" fill="#e8173e"/>
<line x1="508.4" y1="228.4" x2="508.4" y2="231.6" stroke="#1a1a1a" stroke-width="0.9"/>
<text x="509.4" y="220.66" font-size="6.6" text-anchor="middle">**</text>
<text x="509.7" y="235.4" font-size="4.2" text-anchor="end" textLength="6.2" lengthAdjust="spacingAndGlyphs" transform="rotate(-90 509.7 235.4)">3.2</text>
<text x="452.9" y="252.9" font-size="8.3" text-anchor="middle" font-weight="bold" textLength="58.5" lengthAdjust="spacingAndGlyphs">Concentration (μM)</text>
<line x1="392.5" y1="272" x2="392.5" y2="336.5" stroke="#1a1a1a" stroke-width="1.2"/>
<line x1="389.5" y1="336" x2="392.5" y2="336" stroke="#1a1a1a" stroke-width="0.9"/>
<text x="386" y="338.23" font-size="6.2" text-anchor="end">0</text>
<line x1="389.5" y1="321" x2="392.5" y2="321" stroke="#1a1a1a" stroke-width="0.9"/>
<text x="386" y="323.23" font-size="6.2" text-anchor="end">2</text>
<line x1="389.5" y1="306" x2="392.5" y2="306" stroke="#1a1a1a" stroke-width="0.9"/>
<text x="386" y="308.23" font-size="6.2" text-anchor="end">4</text>
<line x1="389.5" y1="291" x2="392.5" y2="291" stroke="#1a1a1a" stroke-width="0.9"/>
<text x="386" y="293.23" font-size="6.2" text-anchor="end">6</text>
<line x1="389.5" y1="276" x2="392.5" y2="276" stroke="#1a1a1a" stroke-width="0.9"/>
<text x="386" y="278.23" font-size="6.2" text-anchor="end">8</text>
<line x1="392.5" y1="336" x2="512" y2="336" stroke="#1a1a1a" stroke-width="1.2"/>
<text x="364.5" y="304" font-size="8.0" text-anchor="middle" font-weight="bold" textLength="64" lengthAdjust="spacingAndGlyphs" transform="rotate(-90 364.5 304)">Relative expression of</text>
<text x="376" y="304.5" font-size="8.0" text-anchor="middle" font-weight="bold" textLength="51.2" lengthAdjust="spacingAndGlyphs" transform="rotate(-90 376 304.5)">NOXA (% of Con)</text>
<rect x="395.5" y="267.05" width="6" height="2.5" fill="#2fb46a"/>
<text x="405.6" y="270.8" font-size="7.2">DHA</text>
<rect x="395.5" y="275.05" width="6" height="2.5" fill="#f5a623"/>
<text x="405.6" y="278.8" font-size="7.2">VEN</text>
<rect x="395.5" y="283.05" width="6" height="2.5" fill="#1d6aa5"/>
<text x="405.6" y="286.8" font-size="7.2">DHA + VEN</text>
<rect x="395.5" y="291.05" width="6" height="2.5" fill="#e8173e"/>
<text x="405.6" y="294.8" font-size="7.2">A1</text>
<line x1="396.8" y1="329.25" x2="396.8" y2="329.25" stroke="#2fb46a" stroke-width="0.6"/>
<line x1="396.1" y1="329.25" x2="397.5" y2="329.25" stroke="#2fb46a" stroke-width="0.6"/>
<rect x="395.15" y="329.25" width="3.3" height="6.75" fill="#2fb46a"/>
<line x1="396.8" y1="336" x2="396.8" y2="339.2" stroke="#1a1a1a" stroke-width="0.9"/>
<text x="398.1" y="342.9" font-size="4.2" text-anchor="end" textLength="2.4" lengthAdjust="spacingAndGlyphs" transform="rotate(-90 398.1 342.9)">0</text>
<line x1="401.22" y1="327" x2="401.22" y2="324.75" stroke="#2fb46a" stroke-width="0.6"/>
<line x1="400.52" y1="324.75" x2="401.92" y2="324.75" stroke="#2fb46a" stroke-width="0.6"/>
<rect x="399.57" y="327" width="3.3" height="9" fill="#2fb46a"/>
<line x1="401.22" y1="336" x2="401.22" y2="339.2" stroke="#1a1a1a" stroke-width="0.9"/>
<text x="402.52" y="342.9" font-size="4.2" text-anchor="end" textLength="6.2" lengthAdjust="spacingAndGlyphs" transform="rotate(-90 402.52 342.9)">0.2</text>
<line x1="405.64" y1="322.12" x2="405.64" y2="318.75" stroke="#2fb46a" stroke-width="0.6"/>
<line x1="404.94" y1="318.75" x2="406.34" y2="318.75" stroke="#2fb46a" stroke-width="0.6"/>
<rect x="403.99" y="322.12" width="3.3" height="13.88" fill="#2fb46a"/>
<line x1="405.64" y1="336" x2="405.64" y2="339.2" stroke="#1a1a1a" stroke-width="0.9"/>
<text x="406.94" y="342.9" font-size="4.2" text-anchor="end" textLength="6.2" lengthAdjust="spacingAndGlyphs" transform="rotate(-90 406.94 342.9)">0.4</text>
<line x1="410.06" y1="315.75" x2="410.06" y2="310.5" stroke="#2fb46a" stroke-width="0.6"/>
<line x1="409.36" y1="310.5" x2="410.76" y2="310.5" stroke="#2fb46a" stroke-width="0.6"/>
<rect x="408.41" y="315.75" width="3.3" height="20.25" fill="#2fb46a"/>
<line x1="410.06" y1="336" x2="410.06" y2="339.2" stroke="#1a1a1a" stroke-width="0.9"/>
<text x="410.66" y="311.8" font-size="6.6" text-anchor="middle">**</text>
<text x="411.36" y="342.9" font-size="4.2" text-anchor="end" textLength="6.2" lengthAdjust="spacingAndGlyphs" transform="rotate(-90 411.36 342.9)">0.8</text>
<line x1="414.48" y1="309.75" x2="414.48" y2="303" stroke="#2fb46a" stroke-width="0.6"/>
<line x1="413.78" y1="303" x2="415.18" y2="303" stroke="#2fb46a" stroke-width="0.6"/>
<rect x="412.83" y="309.75" width="3.3" height="26.25" fill="#2fb46a"/>
<line x1="414.48" y1="336" x2="414.48" y2="339.2" stroke="#1a1a1a" stroke-width="0.9"/>
<text x="415.08" y="305.8" font-size="6.6" text-anchor="middle">***</text>
<text x="415.78" y="342.9" font-size="4.2" text-anchor="end" textLength="6.2" lengthAdjust="spacingAndGlyphs" transform="rotate(-90 415.78 342.9)">1.6</text>
<line x1="418.9" y1="309" x2="418.9" y2="303" stroke="#2fb46a" stroke-width="0.6"/>
<line x1="418.2" y1="303" x2="419.6" y2="303" stroke="#2fb46a" stroke-width="0.6"/>
<rect x="417.25" y="309" width="3.3" height="27" fill="#2fb46a"/>
<line x1="418.9" y1="336" x2="418.9" y2="339.2" stroke="#1a1a1a" stroke-width="0.9"/>
<text x="419.5" y="301.3" font-size="6.6" text-anchor="middle">***</text>
<text x="420.2" y="342.9" font-size="4.2" text-anchor="end" textLength="6.2" lengthAdjust="spacingAndGlyphs" transform="rotate(-90 420.2 342.9)">3.2</text>
<line x1="426.6" y1="329.25" x2="426.6" y2="328.5" stroke="#f5a623" stroke-width="0.6"/>
<line x1="425.9" y1="328.5" x2="427.3" y2="328.5" stroke="#f5a623" stroke-width="0.6"/>
<rect x="424.95" y="329.25" width="3.3" height="6.75" fill="#f5a623"/>
<line x1="426.6" y1="336" x2="426.6" y2="339.2" stroke="#1a1a1a" stroke-width="0.9"/>
<text x="427.9" y="342.9" font-size="4.2" text-anchor="end" textLength="2.4" lengthAdjust="spacingAndGlyphs" transform="rotate(-90 427.9 342.9)">0</text>
<line x1="431.02" y1="328.88" x2="431.02" y2="328.12" stroke="#f5a623" stroke-width="0.6"/>
<line x1="430.32" y1="328.12" x2="431.72" y2="328.12" stroke="#f5a623" stroke-width="0.6"/>
<rect x="429.37" y="328.88" width="3.3" height="7.12" fill="#f5a623"/>
<line x1="431.02" y1="336" x2="431.02" y2="339.2" stroke="#1a1a1a" stroke-width="0.9"/>
<text x="432.32" y="342.9" font-size="4.2" text-anchor="end" textLength="6.2" lengthAdjust="spacingAndGlyphs" transform="rotate(-90 432.32 342.9)">0.2</text>
<line x1="435.44" y1="329.25" x2="435.44" y2="328.5" stroke="#f5a623" stroke-width="0.6"/>
<line x1="434.74" y1="328.5" x2="436.14" y2="328.5" stroke="#f5a623" stroke-width="0.6"/>
<rect x="433.79" y="329.25" width="3.3" height="6.75" fill="#f5a623"/>
<line x1="435.44" y1="336" x2="435.44" y2="339.2" stroke="#1a1a1a" stroke-width="0.9"/>
<text x="436.74" y="342.9" font-size="4.2" text-anchor="end" textLength="6.2" lengthAdjust="spacingAndGlyphs" transform="rotate(-90 436.74 342.9)">0.4</text>
<line x1="439.86" y1="329.25" x2="439.86" y2="328.5" stroke="#f5a623" stroke-width="0.6"/>
<line x1="439.16" y1="328.5" x2="440.56" y2="328.5" stroke="#f5a623" stroke-width="0.6"/>
<rect x="438.21" y="329.25" width="3.3" height="6.75" fill="#f5a623"/>
<line x1="439.86" y1="336" x2="439.86" y2="339.2" stroke="#1a1a1a" stroke-width="0.9"/>
<text x="441.16" y="342.9" font-size="4.2" text-anchor="end" textLength="6.2" lengthAdjust="spacingAndGlyphs" transform="rotate(-90 441.16 342.9)">0.8</text>
<line x1="444.28" y1="328.88" x2="444.28" y2="327.38" stroke="#f5a623" stroke-width="0.6"/>
<line x1="443.58" y1="327.38" x2="444.98" y2="327.38" stroke="#f5a623" stroke-width="0.6"/>
<rect x="442.63" y="328.88" width="3.3" height="7.12" fill="#f5a623"/>
<line x1="444.28" y1="336" x2="444.28" y2="339.2" stroke="#1a1a1a" stroke-width="0.9"/>
<text x="445.58" y="342.9" font-size="4.2" text-anchor="end" textLength="6.2" lengthAdjust="spacingAndGlyphs" transform="rotate(-90 445.58 342.9)">1.6</text>
<line x1="448.7" y1="329.25" x2="448.7" y2="328.5" stroke="#f5a623" stroke-width="0.6"/>
<line x1="448" y1="328.5" x2="449.4" y2="328.5" stroke="#f5a623" stroke-width="0.6"/>
<rect x="447.05" y="329.25" width="3.3" height="6.75" fill="#f5a623"/>
<line x1="448.7" y1="336" x2="448.7" y2="339.2" stroke="#1a1a1a" stroke-width="0.9"/>
<text x="450" y="342.9" font-size="4.2" text-anchor="end" textLength="6.2" lengthAdjust="spacingAndGlyphs" transform="rotate(-90 450 342.9)">3.2</text>
<line x1="456.3" y1="329.25" x2="456.3" y2="329.25" stroke="#1d6aa5" stroke-width="0.6"/>
<line x1="455.6" y1="329.25" x2="457" y2="329.25" stroke="#1d6aa5" stroke-width="0.6"/>
<rect x="454.65" y="329.25" width="3.3" height="6.75" fill="#1d6aa5"/>
<line x1="456.3" y1="336" x2="456.3" y2="339.2" stroke="#1a1a1a" stroke-width="0.9"/>
<text x="457.6" y="342.9" font-size="4.2" text-anchor="end" textLength="2.4" lengthAdjust="spacingAndGlyphs" transform="rotate(-90 457.6 342.9)">0</text>
<line x1="460.72" y1="327" x2="460.72" y2="323.25" stroke="#1d6aa5" stroke-width="0.6"/>
<line x1="460.02" y1="323.25" x2="461.42" y2="323.25" stroke="#1d6aa5" stroke-width="0.6"/>
<rect x="459.07" y="327" width="3.3" height="9" fill="#1d6aa5"/>
<line x1="460.72" y1="336" x2="460.72" y2="339.2" stroke="#1a1a1a" stroke-width="0.9"/>
<text x="462.02" y="342.9" font-size="4.2" text-anchor="end" textLength="6.2" lengthAdjust="spacingAndGlyphs" transform="rotate(-90 462.02 342.9)">0.2</text>
<line x1="465.14" y1="324.38" x2="465.14" y2="321" stroke="#1d6aa5" stroke-width="0.6"/>
<line x1="464.44" y1="321" x2="465.84" y2="321" stroke="#1d6aa5" stroke-width="0.6"/>
<rect x="463.49" y="324.38" width="3.3" height="11.62" fill="#1d6aa5"/>
<line x1="465.14" y1="336" x2="465.14" y2="339.2" stroke="#1a1a1a" stroke-width="0.9"/>
<text x="466.44" y="342.9" font-size="4.2" text-anchor="end" textLength="6.2" lengthAdjust="spacingAndGlyphs" transform="rotate(-90 466.44 342.9)">0.4</text>
<line x1="469.56" y1="318" x2="469.56" y2="312" stroke="#1d6aa5" stroke-width="0.6"/>
<line x1="468.86" y1="312" x2="470.26" y2="312" stroke="#1d6aa5" stroke-width="0.6"/>
<rect x="467.91" y="318" width="3.3" height="18" fill="#1d6aa5"/>
<line x1="469.56" y1="336" x2="469.56" y2="339.2" stroke="#1a1a1a" stroke-width="0.9"/>
<text x="470.16" y="313.3" font-size="6.6" text-anchor="middle">*</text>
<text x="470.86" y="342.9" font-size="4.2" text-anchor="end" textLength="6.2" lengthAdjust="spacingAndGlyphs" transform="rotate(-90 470.86 342.9)">0.8</text>
<line x1="473.98" y1="312.38" x2="473.98" y2="304.5" stroke="#1d6aa5" stroke-width="0.6"/>
<line x1="473.28" y1="304.5" x2="474.68" y2="304.5" stroke="#1d6aa5" stroke-width="0.6"/>
<rect x="472.33" y="312.38" width="3.3" height="23.62" fill="#1d6aa5"/>
<line x1="473.98" y1="336" x2="473.98" y2="339.2" stroke="#1a1a1a" stroke-width="0.9"/>
<text x="474.58" y="306.4" font-size="6.6" text-anchor="middle">**</text>
<text x="475.28" y="342.9" font-size="4.2" text-anchor="end" textLength="6.2" lengthAdjust="spacingAndGlyphs" transform="rotate(-90 475.28 342.9)">1.6</text>
<line x1="478.4" y1="309.38" x2="478.4" y2="300" stroke="#1d6aa5" stroke-width="0.6"/>
<line x1="477.7" y1="300" x2="479.1" y2="300" stroke="#1d6aa5" stroke-width="0.6"/>
<rect x="476.75" y="309.38" width="3.3" height="26.62" fill="#1d6aa5"/>
<line x1="478.4" y1="336" x2="478.4" y2="339.2" stroke="#1a1a1a" stroke-width="0.9"/>
<text x="479" y="300.5" font-size="6.6" text-anchor="middle">***</text>
<text x="479.7" y="342.9" font-size="4.2" text-anchor="end" textLength="6.2" lengthAdjust="spacingAndGlyphs" transform="rotate(-90 479.7 342.9)">3.2</text>
<line x1="486.3" y1="329.25" x2="486.3" y2="329.25" stroke="#e8173e" stroke-width="0.6"/>
<line x1="485.6" y1="329.25" x2="487" y2="329.25" stroke="#e8173e" stroke-width="0.6"/>
<rect x="484.65" y="329.25" width="3.3" height="6.75" fill="#e8173e"/>
<line x1="486.3" y1="336" x2="486.3" y2="339.2" stroke="#1a1a1a" stroke-width="0.9"/>
<text x="487.6" y="342.9" font-size="4.2" text-anchor="end" textLength="2.4" lengthAdjust="spacingAndGlyphs" transform="rotate(-90 487.6 342.9)">0</text>
<line x1="490.72" y1="321" x2="490.72" y2="315.75" stroke="#e8173e" stroke-width="0.6"/>
<line x1="490.02" y1="315.75" x2="491.42" y2="315.75" stroke="#e8173e" stroke-width="0.6"/>
<rect x="489.07" y="321" width="3.3" height="15" fill="#e8173e"/>
<line x1="490.72" y1="336" x2="490.72" y2="339.2" stroke="#1a1a1a" stroke-width="0.9"/>
<text x="492.02" y="342.9" font-size="4.2" text-anchor="end" textLength="6.2" lengthAdjust="spacingAndGlyphs" transform="rotate(-90 492.02 342.9)">0.2</text>
<line x1="495.14" y1="314.25" x2="495.14" y2="307.5" stroke="#e8173e" stroke-width="0.6"/>
<line x1="494.44" y1="307.5" x2="495.84" y2="307.5" stroke="#e8173e" stroke-width="0.6"/>
<rect x="493.49" y="314.25" width="3.3" height="21.75" fill="#e8173e"/>
<line x1="495.14" y1="336" x2="495.14" y2="339.2" stroke="#1a1a1a" stroke-width="0.9"/>
<text x="495.74" y="309.2" font-size="6.6" text-anchor="middle">**</text>
<text x="496.44" y="342.9" font-size="4.2" text-anchor="end" textLength="6.2" lengthAdjust="spacingAndGlyphs" transform="rotate(-90 496.44 342.9)">0.4</text>
<line x1="499.56" y1="314.25" x2="499.56" y2="306" stroke="#e8173e" stroke-width="0.6"/>
<line x1="498.86" y1="306" x2="500.26" y2="306" stroke="#e8173e" stroke-width="0.6"/>
<rect x="497.91" y="314.25" width="3.3" height="21.75" fill="#e8173e"/>
<line x1="499.56" y1="336" x2="499.56" y2="339.2" stroke="#1a1a1a" stroke-width="0.9"/>
<text x="500.16" y="306.4" font-size="6.6" text-anchor="middle">**</text>
<text x="500.86" y="342.9" font-size="4.2" text-anchor="end" textLength="6.2" lengthAdjust="spacingAndGlyphs" transform="rotate(-90 500.86 342.9)">0.8</text>
<line x1="503.98" y1="312" x2="503.98" y2="304.5" stroke="#e8173e" stroke-width="0.6"/>
<line x1="503.28" y1="304.5" x2="504.68" y2="304.5" stroke="#e8173e" stroke-width="0.6"/>
<rect x="502.33" y="312" width="3.3" height="24" fill="#e8173e"/>
<line x1="503.98" y1="336" x2="503.98" y2="339.2" stroke="#1a1a1a" stroke-width="0.9"/>
<text x="504.58" y="302.9" font-size="6.6" text-anchor="middle">**</text>
<text x="505.28" y="342.9" font-size="4.2" text-anchor="end" textLength="6.2" lengthAdjust="spacingAndGlyphs" transform="rotate(-90 505.28 342.9)">1.6</text>
<line x1="508.4" y1="312" x2="508.4" y2="306" stroke="#e8173e" stroke-width="0.6"/>
<line x1="507.7" y1="306" x2="509.1" y2="306" stroke="#e8173e" stroke-width="0.6"/>
<rect x="506.75" y="312" width="3.3" height="24" fill="#e8173e"/>
<line x1="508.4" y1="336" x2="508.4" y2="339.2" stroke="#1a1a1a" stroke-width="0.9"/>
<text x="509" y="299.5" font-size="6.6" text-anchor="middle">**</text>
<text x="509.7" y="342.9" font-size="4.2" text-anchor="end" textLength="6.2" lengthAdjust="spacingAndGlyphs" transform="rotate(-90 509.7 342.9)">3.2</text>
<text x="452.9" y="360.4" font-size="8.3" text-anchor="middle" font-weight="bold" textLength="58.5" lengthAdjust="spacingAndGlyphs">Concentration (μM)</text>
<text x="7.6" y="385.8" font-size="12.8" font-weight="bold" class="pl">D</text>
<text x="82.6" y="445.4" font-size="6.6" text-anchor="middle">THP-1</text>
<line x1="56.2" y1="450.6" x2="110" y2="450.6" stroke="#8c8c8c" stroke-width="1.4"/>
<text x="59.8" y="481.8" font-size="7.2" transform="rotate(-45 59.8 481.8)">Con</text>
<text x="71.2" y="482.4" font-size="7.2" transform="rotate(-45 71.2 482.4)">DHA</text>
<text x="82.8" y="482.4" font-size="7.2" transform="rotate(-45 82.8 482.4)">VEN</text>
<text x="94.2" y="482.4" font-size="7.2" transform="rotate(-45 94.2 482.4)">DHA + VEN</text>
<text x="107.8" y="482.6" font-size="7.2" transform="rotate(-45 107.8 482.6)">A1</text>
<rect x="55.3" y="487.6" width="55.5" height="12.2" fill="#ececec" stroke="#111" stroke-width="1.5"/>
<rect x="79.56" y="493.25" width="6.48" height="2.7" rx="0.84" fill="#000" fill-opacity="0.12" filter="url(#b2)"/>
<rect x="89.32" y="491.5" width="7.56" height="5.4" rx="1.69" fill="#000" fill-opacity="0.45" filter="url(#b2)"/>
<rect x="99.28" y="491.04" width="8.64" height="4.73" rx="1.48" fill="#000" fill-opacity="0.95" filter="url(#b2)"/>
<rect x="99.82" y="495.71" width="7.56" height="3.38" rx="1.05" fill="#000" fill-opacity="0.8" filter="url(#b2)"/>
<rect x="55.3" y="506.4" width="55.5" height="15" fill="#ebebeb" stroke="#111" stroke-width="1.5"/>
<rect x="89.93" y="513.31" width="5.94" height="2.97" rx="0.93" fill="#000" fill-opacity="0.7" filter="url(#b)"/>
<rect x="99.48" y="512.03" width="8.64" height="5.13" rx="1.6" fill="#000" fill-opacity="1.0" filter="url(#b)"/>
<rect x="55.3" y="527.6" width="55.5" height="12.2" fill="#fbfbfb" stroke="#111" stroke-width="1.5"/>
<rect x="57.86" y="532.18" width="9.29" height="4.05" rx="1.27" fill="#000" fill-opacity="0.95" filter="url(#b)"/>
<rect x="67.96" y="532.18" width="9.29" height="4.05" rx="1.27" fill="#000" fill-opacity="0.95" filter="url(#b)"/>
<rect x="78.16" y="532.18" width="9.29" height="4.05" rx="1.27" fill="#000" fill-opacity="0.95" filter="url(#b)"/>
<rect x="88.46" y="532.18" width="9.29" height="4.05" rx="1.27" fill="#000" fill-opacity="0.95" filter="url(#b)"/>
<rect x="98.96" y="532.18" width="9.29" height="4.05" rx="1.27" fill="#000" fill-opacity="0.95" filter="url(#b)"/>
<rect x="55.3" y="544.5" width="55.5" height="11.9" fill="#fbfbfb" stroke="#111" stroke-width="1.5"/>
<rect x="57.86" y="548.61" width="9.29" height="3.78" rx="1.18" fill="#000" fill-opacity="0.95" filter="url(#b)"/>
<rect x="67.96" y="548.61" width="9.29" height="3.78" rx="1.18" fill="#000" fill-opacity="0.95" filter="url(#b)"/>
<rect x="78.16" y="548.61" width="9.29" height="3.78" rx="1.18" fill="#000" fill-opacity="0.95" filter="url(#b)"/>
<rect x="88.46" y="548.61" width="9.29" height="3.78" rx="1.18" fill="#000" fill-opacity="0.95" filter="url(#b)"/>
<rect x="98.96" y="548.61" width="9.29" height="3.78" rx="1.18" fill="#000" fill-opacity="0.8" filter="url(#b)"/>
<rect x="55.3" y="561" width="55.5" height="11" fill="#fbfbfb" stroke="#111" stroke-width="1.5"/>
<rect x="57.64" y="563.98" width="9.72" height="3.24" rx="1.01" fill="#000" fill-opacity="0.95" filter="url(#b)"/>
<rect x="67.74" y="563.98" width="9.72" height="3.24" rx="1.01" fill="#000" fill-opacity="0.95" filter="url(#b)"/>
<rect x="77.94" y="563.98" width="9.72" height="3.24" rx="1.01" fill="#000" fill-opacity="0.95" filter="url(#b)"/>
<rect x="88.24" y="563.98" width="9.72" height="3.24" rx="1.01" fill="#000" fill-opacity="0.95" filter="url(#b)"/>
<rect x="98.74" y="563.98" width="9.72" height="3.24" rx="1.01" fill="#000" fill-opacity="0.95" filter="url(#b)"/>
<text x="50.8" y="491.8" font-size="7.0" text-anchor="end" textLength="40.5" lengthAdjust="spacingAndGlyphs">IP: Bak(ab-1)</text>
<text x="50.8" y="498.3" font-size="7.0" text-anchor="end" textLength="36.9" lengthAdjust="spacingAndGlyphs">IB: Bak poly</text>
<text x="50.8" y="513.7" font-size="7.0" text-anchor="end" textLength="36.9" lengthAdjust="spacingAndGlyphs">IP: Bax 6A7</text>
<text x="50.8" y="519.6" font-size="7.0" text-anchor="end" textLength="36.9" lengthAdjust="spacingAndGlyphs">IB: Bax poly</text>
<text x="50.8" y="537.2" font-size="7.0" text-anchor="end">Bak</text>
<text x="50.8" y="554.2" font-size="7.0" text-anchor="end">Bax</text>
<text x="50.8" y="568.6" font-size="7.0" text-anchor="end" textLength="20" lengthAdjust="spacingAndGlyphs">β-actin</text>
<text x="7.9" y="552.6" font-size="7.0" textLength="14.5" lengthAdjust="spacingAndGlyphs">Input</text>
<line x1="26.4" y1="530.2" x2="26.4" y2="570.7" stroke="#666" stroke-width="0.9"/>
<text x="140.8" y="385.8" font-size="12.8" font-weight="bold" class="pl">E</text>
<text x="192.6" y="412.9" font-size="6.6" text-anchor="middle">THP-1</text>
<line x1="167" y1="415.3" x2="219.2" y2="415.3" stroke="#8c8c8c" stroke-width="1.4"/>
<text x="167.9" y="446.6" font-size="7.2" transform="rotate(-45 167.9 446.6)">Con</text>
<text x="180.9" y="446.6" font-size="7.2" transform="rotate(-45 180.9 446.6)">DHA</text>
<text x="192.4" y="445.8" font-size="7.2" transform="rotate(-45 192.4 445.8)">VEN</text>
<text x="206.1" y="446.6" font-size="7.2" transform="rotate(-45 206.1 446.6)">DHA + VEN</text>
<text x="218.5" y="446.6" font-size="7.2" transform="rotate(-45 218.5 446.6)">A1</text>
<rect x="165.3" y="449.4" width="54.5" height="9.6" fill="#fbfbfb" stroke="#111" stroke-width="1.5"/>
<rect x="168.54" y="453.25" width="6.91" height="1.89" rx="0.59" fill="#000" fill-opacity="0.85" filter="url(#b)"/>
<rect x="178.7" y="452.78" width="7.99" height="3.24" rx="1.01" fill="#000" fill-opacity="1.0" filter="url(#b)"/>
<rect x="210.14" y="453.92" width="6.91" height="1.76" rx="0.55" fill="#000" fill-opacity="0.45" filter="url(#b)"/>
<rect x="165.3" y="461.3" width="54.5" height="9.9" fill="#fbfbfb" stroke="#111" stroke-width="1.5"/>
<rect x="168.22" y="464.99" width="7.56" height="2.43" rx="0.76" fill="#000" fill-opacity="0.9" filter="url(#b)"/>
<rect x="178.92" y="464.99" width="7.56" height="2.43" rx="0.76" fill="#000" fill-opacity="0.12" filter="url(#b)"/>
<rect x="189.12" y="464.99" width="7.56" height="2.43" rx="0.76" fill="#000" fill-opacity="0.95" filter="url(#b)"/>
<rect x="199.42" y="464.99" width="7.56" height="2.43" rx="0.76" fill="#000" fill-opacity="0.75" filter="url(#b)"/>
<rect x="209.82" y="464.99" width="7.56" height="2.43" rx="0.76" fill="#000" fill-opacity="0.12" filter="url(#b)"/>
<rect x="165.3" y="473.5" width="54.5" height="17.7" fill="#fbfbfb" stroke="#111" stroke-width="1.5"/>
<rect x="167.68" y="476.18" width="8.64" height="3.24" rx="1.01" fill="#000" fill-opacity="0.9" filter="url(#b)"/>
<rect x="178.38" y="476.18" width="8.64" height="3.24" rx="1.01" fill="#000" fill-opacity="0.9" filter="url(#b)"/>
<rect x="188.58" y="476.18" width="8.64" height="3.24" rx="1.01" fill="#000" fill-opacity="0.9" filter="url(#b)"/>
<rect x="198.88" y="476.18" width="8.64" height="3.24" rx="1.01" fill="#000" fill-opacity="0.9" filter="url(#b)"/>
<rect x="209.28" y="476.18" width="8.64" height="3.24" rx="1.01" fill="#000" fill-opacity="0.9" filter="url(#b)"/>
<rect x="168.16" y="481.18" width="3.67" height="4.05" rx="1.27" fill="#000" fill-opacity="1.0" filter="url(#b)"/>
<rect x="172.16" y="481.18" width="3.67" height="4.05" rx="1.27" fill="#000" fill-opacity="1.0" filter="url(#b)"/>
<rect x="178.86" y="481.18" width="3.67" height="4.05" rx="1.27" fill="#000" fill-opacity="0.6" filter="url(#b)"/>
<rect x="182.86" y="481.18" width="3.67" height="4.05" rx="1.27" fill="#000" fill-opacity="0.6" filter="url(#b)"/>
<rect x="189.06" y="481.18" width="3.67" height="4.05" rx="1.27" fill="#000" fill-opacity="0.55" filter="url(#b)"/>
<rect x="193.06" y="481.18" width="3.67" height="4.05" rx="1.27" fill="#000" fill-opacity="0.55" filter="url(#b)"/>
<rect x="199.36" y="481.18" width="3.67" height="4.05" rx="1.27" fill="#000" fill-opacity="0.9" filter="url(#b)"/>
<rect x="203.36" y="481.18" width="3.67" height="4.05" rx="1.27" fill="#000" fill-opacity="0.9" filter="url(#b)"/>
<rect x="209.76" y="481.18" width="3.67" height="4.05" rx="1.27" fill="#000" fill-opacity="0.6" filter="url(#b)"/>
<rect x="213.76" y="481.18" width="3.67" height="4.05" rx="1.27" fill="#000" fill-opacity="0.6" filter="url(#b)"/>
<rect x="167.95" y="485.72" width="8.1" height="2.16" rx="0.68" fill="#000" fill-opacity="0.45" filter="url(#b)"/>
<rect x="178.65" y="485.72" width="8.1" height="2.16" rx="0.68" fill="#000" fill-opacity="0.4" filter="url(#b)"/>
<rect x="188.85" y="485.72" width="8.1" height="2.16" rx="0.68" fill="#000" fill-opacity="0.2" filter="url(#b)"/>
<rect x="199.15" y="485.72" width="8.1" height="2.16" rx="0.68" fill="#000" fill-opacity="0.4" filter="url(#b)"/>
<rect x="209.55" y="485.72" width="8.1" height="2.16" rx="0.68" fill="#000" fill-opacity="0.2" filter="url(#b)"/>
<rect x="165.3" y="495" width="54.5" height="8.1" fill="#fbfbfb" stroke="#111" stroke-width="1.5"/>
<rect x="165.3" y="505.4" width="54.5" height="10.6" fill="#fbfbfb" stroke="#111" stroke-width="1.5"/>
<rect x="168" y="509.39" width="7.99" height="2.43" rx="0.76" fill="#000" fill-opacity="0.3" filter="url(#b)"/>
<rect x="178.7" y="509.39" width="7.99" height="2.43" rx="0.76" fill="#000" fill-opacity="0.55" filter="url(#b)"/>
<rect x="188.9" y="509.39" width="7.99" height="2.43" rx="0.76" fill="#000" fill-opacity="0.4" filter="url(#b)"/>
<rect x="199.2" y="509.39" width="7.99" height="2.43" rx="0.76" fill="#000" fill-opacity="0.6" filter="url(#b)"/>
<rect x="209.6" y="509.39" width="7.99" height="2.43" rx="0.76" fill="#000" fill-opacity="0.65" filter="url(#b)"/>
<rect x="165.3" y="518.6" width="54.5" height="11.6" fill="#fbfbfb" stroke="#111" stroke-width="1.5"/>
<rect x="167.41" y="522.51" width="9.18" height="3.78" rx="1.18" fill="#000" fill-opacity="0.05" filter="url(#b2)"/>
<rect x="178.11" y="522.51" width="9.18" height="3.78" rx="1.18" fill="#000" fill-opacity="0.75" filter="url(#b2)"/>
<rect x="188.31" y="522.51" width="9.18" height="3.78" rx="1.18" fill="#000" fill-opacity="0.35" filter="url(#b2)"/>
<rect x="198.61" y="522.51" width="9.18" height="3.78" rx="1.18" fill="#000" fill-opacity="0.8" filter="url(#b2)"/>
<rect x="209.01" y="522.51" width="9.18" height="3.78" rx="1.18" fill="#000" fill-opacity="0.95" filter="url(#b2)"/>
<rect x="165.3" y="536" width="54.5" height="9.6" fill="#fbfbfb" stroke="#111" stroke-width="1.5"/>
<rect x="167.68" y="539.38" width="8.64" height="3.24" rx="1.01" fill="#000" fill-opacity="0.95" filter="url(#b)"/>
<rect x="178.38" y="539.38" width="8.64" height="3.24" rx="1.01" fill="#000" fill-opacity="0.95" filter="url(#b)"/>
<rect x="188.58" y="539.38" width="8.64" height="3.24" rx="1.01" fill="#000" fill-opacity="0.95" filter="url(#b)"/>
<rect x="198.88" y="539.38" width="8.64" height="3.24" rx="1.01" fill="#000" fill-opacity="0.95" filter="url(#b)"/>
<rect x="209.28" y="539.38" width="8.64" height="3.24" rx="1.01" fill="#000" fill-opacity="0.95" filter="url(#b)"/>
<rect x="165.3" y="547.9" width="54.5" height="9.3" fill="#fbfbfb" stroke="#111" stroke-width="1.5"/>
<rect x="167.68" y="551.41" width="8.64" height="2.97" rx="0.93" fill="#000" fill-opacity="0.95" filter="url(#b)"/>
<rect x="178.38" y="551.41" width="8.64" height="2.97" rx="0.93" fill="#000" fill-opacity="0.9" filter="url(#b)"/>
<rect x="188.58" y="551.41" width="8.64" height="2.97" rx="0.93" fill="#000" fill-opacity="0.95" filter="url(#b)"/>
<rect x="198.88" y="551.41" width="8.64" height="2.97" rx="0.93" fill="#000" fill-opacity="0.9" filter="url(#b)"/>
<rect x="209.28" y="551.41" width="8.64" height="2.97" rx="0.93" fill="#000" fill-opacity="0.8" filter="url(#b)"/>
<rect x="165.3" y="559.4" width="54.5" height="19.3" fill="#fbfbfb" stroke="#111" stroke-width="1.5"/>
<rect x="167.46" y="562.91" width="9.07" height="3.78" rx="1.18" fill="#000" fill-opacity="0.95" filter="url(#b)"/>
<rect x="178.16" y="562.91" width="9.07" height="3.78" rx="1.18" fill="#000" fill-opacity="0.95" filter="url(#b)"/>
<rect x="188.36" y="562.91" width="9.07" height="3.78" rx="1.18" fill="#000" fill-opacity="0.95" filter="url(#b)"/>
<rect x="198.66" y="562.91" width="9.07" height="3.78" rx="1.18" fill="#000" fill-opacity="0.95" filter="url(#b)"/>
<rect x="209.06" y="562.91" width="9.07" height="3.78" rx="1.18" fill="#000" fill-opacity="0.95" filter="url(#b)"/>
<rect x="168" y="571.55" width="7.99" height="1.89" rx="0.59" fill="#000" fill-opacity="0.6" filter="url(#b)"/>
<rect x="178.7" y="571.55" width="7.99" height="1.89" rx="0.59" fill="#000" fill-opacity="0.6" filter="url(#b)"/>
<rect x="188.9" y="571.55" width="7.99" height="1.89" rx="0.59" fill="#000" fill-opacity="0.6" filter="url(#b)"/>
<rect x="199.2" y="571.55" width="7.99" height="1.89" rx="0.59" fill="#000" fill-opacity="0.6" filter="url(#b)"/>
<rect x="209.6" y="571.55" width="7.99" height="1.89" rx="0.59" fill="#000" fill-opacity="0.6" filter="url(#b)"/>
<rect x="168.22" y="574.53" width="7.56" height="1.35" rx="0.42" fill="#000" fill-opacity="0.2" filter="url(#b)"/>
<rect x="178.92" y="574.53" width="7.56" height="1.35" rx="0.42" fill="#000" fill-opacity="0.2" filter="url(#b)"/>
<rect x="189.12" y="574.53" width="7.56" height="1.35" rx="0.42" fill="#000" fill-opacity="0.2" filter="url(#b)"/>
<rect x="199.42" y="574.53" width="7.56" height="1.35" rx="0.42" fill="#000" fill-opacity="0.2" filter="url(#b)"/>
<rect x="209.82" y="574.53" width="7.56" height="1.35" rx="0.42" fill="#000" fill-opacity="0.2" filter="url(#b)"/>
<rect x="165.3" y="581.2" width="54.5" height="11.9" fill="#fbfbfb" stroke="#111" stroke-width="1.5"/>
<rect x="167.36" y="585.61" width="9.29" height="3.78" rx="1.18" fill="#000" fill-opacity="0.15" filter="url(#b2)"/>
<rect x="178.06" y="585.61" width="9.29" height="3.78" rx="1.18" fill="#000" fill-opacity="0.85" filter="url(#b2)"/>
<rect x="188.26" y="585.61" width="9.29" height="3.78" rx="1.18" fill="#000" fill-opacity="0.2" filter="url(#b2)"/>
<rect x="198.56" y="585.61" width="9.29" height="3.78" rx="1.18" fill="#000" fill-opacity="0.7" filter="url(#b2)"/>
<rect x="208.96" y="585.61" width="9.29" height="3.78" rx="1.18" fill="#000" fill-opacity="0.95" filter="url(#b2)"/>
<rect x="165.3" y="595.2" width="54.5" height="8.6" fill="#fbfbfb" stroke="#111" stroke-width="1.5"/>
<rect x="167.46" y="597.78" width="9.07" height="3.24" rx="1.01" fill="#000" fill-opacity="0.95" filter="url(#b)"/>
<rect x="178.16" y="597.78" width="9.07" height="3.24" rx="1.01" fill="#000" fill-opacity="0.95" filter="url(#b)"/>
<rect x="188.36" y="597.78" width="9.07" height="3.24" rx="1.01" fill="#000" fill-opacity="0.95" filter="url(#b)"/>
<rect x="198.66" y="597.78" width="9.07" height="3.24" rx="1.01" fill="#000" fill-opacity="0.95" filter="url(#b)"/>
<rect x="209.06" y="597.78" width="9.07" height="3.24" rx="1.01" fill="#000" fill-opacity="0.95" filter="url(#b)"/>
<text x="161" y="456.2" font-size="6.6" text-anchor="end">Bcl-2</text>
<text x="161" y="468" font-size="6.6" text-anchor="end">Mcl-1</text>
<text x="161" y="478.6" font-size="6.6" text-anchor="end">Bim<tspan font-size="74%" dy="0.42em">EL</tspan></text>
<text x="161" y="488.1" font-size="6.6" text-anchor="end">Bim<tspan font-size="74%" dy="0.42em">L/S</tspan></text>
<text x="161" y="500" font-size="6.6" text-anchor="end">Bcl-2</text>
<text x="161" y="512.9" font-size="6.6" text-anchor="end">Mcl-1</text>
<text x="161" y="526.5" font-size="6.6" text-anchor="end">NOXA</text>
<text x="161" y="543" font-size="6.6" text-anchor="end">Bcl-2</text>
<text x="161" y="554.8" font-size="6.6" text-anchor="end">Mcl-1</text>
<text x="161" y="566.7" font-size="6.6" text-anchor="end">Bim<tspan font-size="74%" dy="0.42em">EL</tspan></text>
<text x="161" y="574.8" font-size="6.6" text-anchor="end">Bim<tspan font-size="74%" dy="0.42em">L/S</tspan></text>
<text x="161" y="588.6" font-size="6.6" text-anchor="end">NOXA</text>
<text x="161" y="601" font-size="6.6" text-anchor="end">β-actin</text>
<line x1="225" y1="450.8" x2="225" y2="491.2" stroke="#777" stroke-width="0.9"/>
<line x1="225" y1="496.5" x2="225" y2="528.8" stroke="#777" stroke-width="0.9"/>
<line x1="225" y1="537" x2="225" y2="600.6" stroke="#777" stroke-width="0.9"/>
<text x="228.8" y="473.9" font-size="6.8">IP: Bim</text>
<text x="228.8" y="515" font-size="6.8" textLength="30" lengthAdjust="spacingAndGlyphs">IP: NOXA</text>
<text x="228.8" y="571.6" font-size="6.8">Input</text>
<text x="270.8" y="386.4" font-size="12.8" font-weight="bold" class="pl">F</text>
<text x="333.9" y="404.2" font-size="7.0" text-anchor="middle">THP-1</text>
<line x1="303.6" y1="409.8" x2="303.6" y2="476.1" stroke="#1a1a1a" stroke-width="1.2"/>
<line x1="300.6" y1="475.6" x2="303.6" y2="475.6" stroke="#1a1a1a" stroke-width="0.9"/>
<text x="298.2" y="478.05" font-size="6.8" text-anchor="end">0</text>
<line x1="300.6" y1="465.27" x2="303.6" y2="465.27" stroke="#1a1a1a" stroke-width="0.9"/>
<text x="298.2" y="467.71" font-size="6.8" text-anchor="end">20</text>
<line x1="300.6" y1="454.93" x2="303.6" y2="454.93" stroke="#1a1a1a" stroke-width="0.9"/>
<text x="298.2" y="457.38" font-size="6.8" text-anchor="end">40</text>
<line x1="300.6" y1="444.6" x2="303.6" y2="444.6" stroke="#1a1a1a" stroke-width="0.9"/>
<text x="298.2" y="447.05" font-size="6.8" text-anchor="end">60</text>
<line x1="300.6" y1="434.27" x2="303.6" y2="434.27" stroke="#1a1a1a" stroke-width="0.9"/>
<text x="298.2" y="436.71" font-size="6.8" text-anchor="end">80</text>
<line x1="300.6" y1="423.93" x2="303.6" y2="423.93" stroke="#1a1a1a" stroke-width="0.9"/>
<text x="298.2" y="426.38" font-size="6.8" text-anchor="end">100</text>
<line x1="300.6" y1="413.6" x2="303.6" y2="413.6" stroke="#1a1a1a" stroke-width="0.9"/>
<text x="298.2" y="416.05" font-size="6.8" text-anchor="end">120</text>
<line x1="303.6" y1="475.6" x2="361.5" y2="475.6" stroke="#1a1a1a" stroke-width="1.2"/>
<text x="279" y="442.6" font-size="8.0" text-anchor="middle" font-weight="bold" textLength="56.3" lengthAdjust="spacingAndGlyphs" transform="rotate(-90 279 442.6)">Apoptotic cells (%)</text>
<rect x="306.2" y="413.2" width="5.8" height="2.4" fill="#1d6aa5"/>
<text x="313.5" y="416.6" font-size="6.0">shNC</text>
<rect x="306.2" y="419.8" width="5.8" height="2.4" fill="#e8173e"/>
<text x="313.5" y="423.2" font-size="6.0" textLength="28.4" lengthAdjust="spacingAndGlyphs">shPMAIP1</text>
<line x1="313.3" y1="473.12" x2="313.3" y2="471.26" stroke="#1d6aa5" stroke-width="0.8"/>
<line x1="311.8" y1="471.26" x2="314.8" y2="471.26" stroke="#1d6aa5" stroke-width="0.8"/>
<rect x="309.7" y="473.12" width="7.2" height="2.48" fill="#1d6aa5"/>
<line x1="324.2" y1="470.18" x2="324.2" y2="466.2" stroke="#e8173e" stroke-width="0.8"/>
<line x1="322.7" y1="466.2" x2="325.7" y2="466.2" stroke="#e8173e" stroke-width="0.8"/>
<rect x="320.6" y="470.18" width="7.2" height="5.43" fill="#e8173e"/>
<line x1="343.75" y1="431.89" x2="343.75" y2="429.98" stroke="#1d6aa5" stroke-width="0.8"/>
<line x1="342.25" y1="429.98" x2="345.25" y2="429.98" stroke="#1d6aa5" stroke-width="0.8"/>
<rect x="340" y="431.89" width="7.5" height="43.71" fill="#1d6aa5"/>
<line x1="354.9" y1="458.29" x2="354.9" y2="455.81" stroke="#e8173e" stroke-width="0.8"/>
<line x1="353.4" y1="455.81" x2="356.4" y2="455.81" stroke="#e8173e" stroke-width="0.8"/>
<rect x="351.25" y="458.29" width="7.3" height="17.31" fill="#e8173e"/>
<line x1="318.6" y1="475.6" x2="318.6" y2="478.3" stroke="#1a1a1a" stroke-width="0.9"/>
<line x1="349.1" y1="475.6" x2="349.1" y2="478.3" stroke="#1a1a1a" stroke-width="0.9"/>
<text x="318.75" y="488.75" font-size="6.8" text-anchor="middle">Con</text>
<text x="348.4" y="488.75" font-size="6.8" text-anchor="middle">A1</text>
<text x="343.75" y="430.9" font-size="6.4" text-anchor="middle">***</text>
<text x="354.9" y="455.9" font-size="6.4" text-anchor="middle">***</text>
<text x="348.75" y="418" font-size="7" text-anchor="middle" font-weight="bold" font-style="italic" textLength="12.5" lengthAdjust="spacingAndGlyphs" fill="#333">###</text>
<line x1="343.1" y1="419.75" x2="354.6" y2="419.75" stroke="#333" stroke-width="0.6"/>
<line x1="354.6" y1="419.75" x2="354.6" y2="451.3" stroke="#333" stroke-width="0.6"/>
<line x1="343.1" y1="419.75" x2="343.1" y2="422.5" stroke="#333" stroke-width="0.6"/>
<text x="443.3" y="380.6" font-size="7.0" text-anchor="middle">THP-1</text>
<text x="434.85" y="391.8" font-size="7.0" text-anchor="middle" textLength="17.5" lengthAdjust="spacingAndGlyphs">shNC</text>
<text x="462.55" y="391.8" font-size="7.0" text-anchor="middle" textLength="31.9" lengthAdjust="spacingAndGlyphs">shPMAIP1</text>
<line x1="427.4" y1="397.1" x2="441.5" y2="397.1" stroke="#8c8c8c" stroke-width="1.3"/>
<line x1="448.3" y1="397.1" x2="462.4" y2="397.1" stroke="#8c8c8c" stroke-width="1.3"/>
<text x="429.2" y="413.6" font-size="6.8" transform="rotate(-45 429.2 413.6)">Con</text>
<text x="440.3" y="414" font-size="6.8" transform="rotate(-45 440.3 414)">A1</text>
<text x="450.1" y="413.6" font-size="6.8" transform="rotate(-45 450.1 413.6)">Con</text>
<text x="460.5" y="414" font-size="6.8" transform="rotate(-45 460.5 414)">A1</text>
<rect x="423.7" y="419.3" width="44.2" height="12" fill="#fbfbfb" stroke="#111" stroke-width="1.5"/>
<rect x="427.6" y="421.68" width="8.21" height="3.24" rx="1.01" fill="#000" fill-opacity="0.9" filter="url(#b)"/>
<rect x="437.3" y="421.68" width="8.21" height="3.24" rx="1.01" fill="#000" fill-opacity="0.1" filter="url(#b)"/>
<rect x="446.7" y="421.68" width="8.21" height="3.24" rx="1.01" fill="#000" fill-opacity="0.9" filter="url(#b)"/>
<rect x="456.9" y="421.68" width="8.21" height="3.24" rx="1.01" fill="#000" fill-opacity="0.8" filter="url(#b)"/>
<rect x="427.6" y="426.68" width="8.21" height="3.24" rx="1.01" fill="#000" fill-opacity="0.05" filter="url(#b)"/>
<rect x="437.3" y="426.68" width="8.21" height="3.24" rx="1.01" fill="#000" fill-opacity="0.95" filter="url(#b)"/>
<rect x="446.7" y="426.68" width="8.21" height="3.24" rx="1.01" fill="#000" fill-opacity="0.35" filter="url(#b)"/>
<rect x="456.9" y="426.68" width="8.21" height="3.24" rx="1.01" fill="#000" fill-opacity="0.85" filter="url(#b)"/>
<rect x="423.7" y="433.9" width="44.2" height="10.4" fill="#fbfbfb" stroke="#111" stroke-width="1.5"/>
<rect x="427.49" y="437.61" width="8.42" height="3.78" rx="1.18" fill="#000" fill-opacity="0.9" filter="url(#b)"/>
<rect x="437.19" y="437.61" width="8.42" height="3.78" rx="1.18" fill="#000" fill-opacity="0.55" filter="url(#b)"/>
<rect x="446.59" y="437.61" width="8.42" height="3.78" rx="1.18" fill="#000" fill-opacity="0.9" filter="url(#b)"/>
<rect x="456.79" y="437.61" width="8.42" height="3.78" rx="1.18" fill="#000" fill-opacity="0.9" filter="url(#b)"/>
<rect x="423.7" y="446.8" width="44.2" height="15.6" fill="#fbfbfb" stroke="#111" stroke-width="1.5"/>
<rect x="427.16" y="448.44" width="9.07" height="4.32" rx="1.35" fill="#000" fill-opacity="0.95" filter="url(#b)"/>
<rect x="436.86" y="448.44" width="9.07" height="4.32" rx="1.35" fill="#000" fill-opacity="0.95" filter="url(#b)"/>
<rect x="446.26" y="448.44" width="9.07" height="4.32" rx="1.35" fill="#000" fill-opacity="0.95" filter="url(#b)"/>
<rect x="456.46" y="448.44" width="9.07" height="4.32" rx="1.35" fill="#000" fill-opacity="0.95" filter="url(#b)"/>
<rect x="427.49" y="455.19" width="8.42" height="2.43" rx="0.76" fill="#000" fill-opacity="0.8" filter="url(#b)"/>
<rect x="437.19" y="455.19" width="8.42" height="2.43" rx="0.76" fill="#000" fill-opacity="0.8" filter="url(#b)"/>
<rect x="446.59" y="455.19" width="8.42" height="2.43" rx="0.76" fill="#000" fill-opacity="0.8" filter="url(#b)"/>
<rect x="456.79" y="455.19" width="8.42" height="2.43" rx="0.76" fill="#000" fill-opacity="0.85" filter="url(#b)"/>
<rect x="427.81" y="458.56" width="7.78" height="1.49" rx="0.46" fill="#000" fill-opacity="0.4" filter="url(#b)"/>
<rect x="437.51" y="458.56" width="7.78" height="1.49" rx="0.46" fill="#000" fill-opacity="0.55" filter="url(#b)"/>
<rect x="446.91" y="458.56" width="7.78" height="1.49" rx="0.46" fill="#000" fill-opacity="0.4" filter="url(#b)"/>
<rect x="457.11" y="458.56" width="7.78" height="1.49" rx="0.46" fill="#000" fill-opacity="0.65" filter="url(#b)"/>
<rect x="423.7" y="464.4" width="44.2" height="11.5" fill="#fbfbfb" stroke="#111" stroke-width="1.5"/>
<rect x="436.76" y="468.61" width="9.29" height="3.78" rx="1.18" fill="#000" fill-opacity="0.95" filter="url(#b2)"/>
<rect x="446.16" y="468.61" width="9.29" height="3.78" rx="1.18" fill="#000" fill-opacity="0.1" filter="url(#b2)"/>
<rect x="456.36" y="468.61" width="9.29" height="3.78" rx="1.18" fill="#000" fill-opacity="0.6" filter="url(#b2)"/>
<rect x="423.7" y="478.3" width="44.2" height="11.5" fill="#fbfbfb" stroke="#111" stroke-width="1.5"/>
<rect x="427.06" y="482.25" width="9.29" height="3.51" rx="1.1" fill="#000" fill-opacity="0.95" filter="url(#b)"/>
<rect x="436.76" y="482.25" width="9.29" height="3.51" rx="1.1" fill="#000" fill-opacity="0.95" filter="url(#b)"/>
<rect x="446.16" y="482.25" width="9.29" height="3.51" rx="1.1" fill="#000" fill-opacity="0.95" filter="url(#b)"/>
<rect x="456.36" y="482.25" width="9.29" height="3.51" rx="1.1" fill="#000" fill-opacity="0.95" filter="url(#b)"/>
<text x="419.8" y="423.6" font-size="6.9" text-anchor="end">PARP</text>
<text x="419.8" y="431.1" font-size="6.9" text-anchor="end" textLength="45.8" lengthAdjust="spacingAndGlyphs">Cleaved-PARP</text>
<text x="419.8" y="441.9" font-size="6.9" text-anchor="end">Mcl-1</text>
<text x="419.8" y="452.7" font-size="6.9" text-anchor="end">Bim<tspan font-size="74%" dy="0.42em">EL</tspan></text>
<text x="419.8" y="460.8" font-size="6.9" text-anchor="end">Bim<tspan font-size="74%" dy="0.42em">L/S</tspan></text>
<text x="419.8" y="472.1" font-size="6.9" text-anchor="end">NOXA</text>
<text x="419.8" y="486.3" font-size="6.9" text-anchor="end">β-actin</text>
<text x="272" y="519.6" font-size="12.8" font-weight="bold" class="pl">G</text>
<text x="333.4" y="532" font-size="7.0" text-anchor="middle">THP-1</text>
<line x1="303.2" y1="548.5" x2="303.2" y2="614.1" stroke="#1a1a1a" stroke-width="1.2"/>
<line x1="300.2" y1="613.6" x2="303.2" y2="613.6" stroke="#1a1a1a" stroke-width="0.9"/>
<text x="297.8" y="616.05" font-size="6.8" text-anchor="end">0</text>
<line x1="300.2" y1="603.33" x2="303.2" y2="603.33" stroke="#1a1a1a" stroke-width="0.9"/>
<text x="297.8" y="605.78" font-size="6.8" text-anchor="end">20</text>
<line x1="300.2" y1="593.07" x2="303.2" y2="593.07" stroke="#1a1a1a" stroke-width="0.9"/>
<text x="297.8" y="595.51" font-size="6.8" text-anchor="end">40</text>
<line x1="300.2" y1="582.8" x2="303.2" y2="582.8" stroke="#1a1a1a" stroke-width="0.9"/>
<text x="297.8" y="585.25" font-size="6.8" text-anchor="end">60</text>
<line x1="300.2" y1="572.53" x2="303.2" y2="572.53" stroke="#1a1a1a" stroke-width="0.9"/>
<text x="297.8" y="574.98" font-size="6.8" text-anchor="end">80</text>
<line x1="300.2" y1="562.27" x2="303.2" y2="562.27" stroke="#1a1a1a" stroke-width="0.9"/>
<text x="297.8" y="564.71" font-size="6.8" text-anchor="end">100</text>
<line x1="300.2" y1="552" x2="303.2" y2="552" stroke="#1a1a1a" stroke-width="0.9"/>
<text x="297.8" y="554.45" font-size="6.8" text-anchor="end">120</text>
<line x1="303.2" y1="613.6" x2="362.2" y2="613.6" stroke="#1a1a1a" stroke-width="1.2"/>
<text x="281.3" y="580" font-size="8.0" text-anchor="middle" font-weight="bold" textLength="57" lengthAdjust="spacingAndGlyphs" transform="rotate(-90 281.3 580)">Apoptotic cells (%)</text>
<rect x="308.7" y="538.5" width="5.4" height="2.4" fill="#1d6aa5"/>
<text x="314.6" y="541.9" font-size="6.0">shNC</text>
<rect x="308.7" y="545.2" width="5.4" height="2.4" fill="#e8173e"/>
<text x="314.6" y="548.6" font-size="6.0" textLength="31.8" lengthAdjust="spacingAndGlyphs">shBCL2L11</text>
<line x1="313.45" y1="611.5" x2="313.45" y2="610.52" stroke="#1d6aa5" stroke-width="0.8"/>
<line x1="311.95" y1="610.52" x2="314.95" y2="610.52" stroke="#1d6aa5" stroke-width="0.8"/>
<rect x="309.95" y="611.5" width="7" height="2.1" fill="#1d6aa5"/>
<line x1="324.25" y1="609.29" x2="324.25" y2="606.11" stroke="#e8173e" stroke-width="0.8"/>
<line x1="322.75" y1="606.11" x2="325.75" y2="606.11" stroke="#e8173e" stroke-width="0.8"/>
<rect x="320.75" y="609.29" width="7" height="4.31" fill="#e8173e"/>
<line x1="344.15" y1="572.02" x2="344.15" y2="567.4" stroke="#1d6aa5" stroke-width="0.8"/>
<line x1="342.65" y1="567.4" x2="345.65" y2="567.4" stroke="#1d6aa5" stroke-width="0.8"/>
<rect x="340.4" y="572.02" width="7.5" height="41.58" fill="#1d6aa5"/>
<line x1="354.75" y1="596.4" x2="354.75" y2="594.61" stroke="#e8173e" stroke-width="0.8"/>
<line x1="353.25" y1="594.61" x2="356.25" y2="594.61" stroke="#e8173e" stroke-width="0.8"/>
<rect x="351" y="596.4" width="7.5" height="17.2" fill="#e8173e"/>
<line x1="318.7" y1="613.6" x2="318.7" y2="616.3" stroke="#1a1a1a" stroke-width="0.9"/>
<line x1="348.6" y1="613.6" x2="348.6" y2="616.3" stroke="#1a1a1a" stroke-width="0.9"/>
<text x="318.7" y="623.3" font-size="6.8" text-anchor="middle">Con</text>
<text x="348.2" y="623.3" font-size="6.8" text-anchor="middle">A1</text>
<text x="344.15" y="568.2" font-size="6.4" text-anchor="middle">***</text>
<text x="354.75" y="593.4" font-size="6.4" text-anchor="middle">***</text>
<text x="349.15" y="556.3" font-size="7" text-anchor="middle" font-weight="bold" font-style="italic" textLength="13.1" lengthAdjust="spacingAndGlyphs" fill="#333">###</text>
<line x1="343.6" y1="558" x2="354.9" y2="558" stroke="#333" stroke-width="0.6"/>
<line x1="354.9" y1="558" x2="354.9" y2="587.8" stroke="#333" stroke-width="0.6"/>
<line x1="343.6" y1="558" x2="343.6" y2="561.7" stroke="#333" stroke-width="0.6"/>
<text x="443.3" y="513.6" font-size="7.0" text-anchor="middle">THP-1</text>
<text x="433.45" y="525.5" font-size="7.0" text-anchor="middle" textLength="17.5" lengthAdjust="spacingAndGlyphs">shNC</text>
<text x="466.45" y="525.5" font-size="7.0" text-anchor="middle" textLength="37.7" lengthAdjust="spacingAndGlyphs">shBCL2L11</text>
<line x1="425.4" y1="530.5" x2="440.9" y2="530.5" stroke="#8c8c8c" stroke-width="1.3"/>
<line x1="446.9" y1="530.5" x2="461" y2="530.5" stroke="#8c8c8c" stroke-width="1.3"/>
<text x="428.6" y="546.6" font-size="6.8" transform="rotate(-45 428.6 546.6)">Con</text>
<text x="439" y="548.3" font-size="6.8" transform="rotate(-45 439 548.3)">A1</text>
<text x="448.1" y="546.6" font-size="6.8" transform="rotate(-45 448.1 546.6)">Con</text>
<text x="459.2" y="547.6" font-size="6.8" transform="rotate(-45 459.2 547.6)">A1</text>
<rect x="423.7" y="553.1" width="44.2" height="13.2" fill="#fbfbfb" stroke="#111" stroke-width="1.5"/>
<rect x="427.38" y="555.64" width="8.64" height="3.51" rx="1.1" fill="#000" fill-opacity="1.0" filter="url(#b)"/>
<rect x="436.58" y="555.64" width="8.64" height="3.51" rx="1.1" fill="#000" fill-opacity="0.1" filter="url(#b)"/>
<rect x="446.18" y="555.64" width="8.64" height="3.51" rx="1.1" fill="#000" fill-opacity="0.95" filter="url(#b)"/>
<rect x="456.18" y="555.64" width="8.64" height="3.51" rx="1.1" fill="#000" fill-opacity="0.8" filter="url(#b)"/>
<rect x="427.38" y="560.45" width="8.64" height="3.51" rx="1.1" fill="#000" fill-opacity="0.15" filter="url(#b)"/>
<rect x="436.58" y="560.45" width="8.64" height="3.51" rx="1.1" fill="#000" fill-opacity="1.0" filter="url(#b)"/>
<rect x="446.18" y="560.45" width="8.64" height="3.51" rx="1.1" fill="#000" fill-opacity="0.6" filter="url(#b)"/>
<rect x="456.18" y="560.45" width="8.64" height="3.51" rx="1.1" fill="#000" fill-opacity="0.95" filter="url(#b)"/>
<rect x="423.7" y="568.5" width="44.2" height="9.8" fill="#fbfbfb" stroke="#111" stroke-width="1.5"/>
<rect x="427.49" y="571.38" width="8.42" height="4.05" rx="1.27" fill="#000" fill-opacity="1.0" filter="url(#b)"/>
<rect x="436.69" y="571.38" width="8.42" height="4.05" rx="1.27" fill="#000" fill-opacity="0.5" filter="url(#b)"/>
<rect x="446.29" y="571.38" width="8.42" height="4.05" rx="1.27" fill="#000" fill-opacity="0.8" filter="url(#b)"/>
<rect x="456.29" y="571.38" width="8.42" height="4.05" rx="1.27" fill="#000" fill-opacity="0.9" filter="url(#b)"/>
<rect x="423.7" y="580.6" width="44.2" height="15.7" fill="#fbfbfb" stroke="#111" stroke-width="1.5"/>
<rect x="427.16" y="582.44" width="9.07" height="4.32" rx="1.35" fill="#000" fill-opacity="1.0" filter="url(#b)"/>
<rect x="436.36" y="582.44" width="9.07" height="4.32" rx="1.35" fill="#000" fill-opacity="1.0" filter="url(#b)"/>
<rect x="445.96" y="582.44" width="9.07" height="4.32" rx="1.35" fill="#000" fill-opacity="0.35" filter="url(#b)"/>
<rect x="455.96" y="582.44" width="9.07" height="4.32" rx="1.35" fill="#000" fill-opacity="0.2" filter="url(#b)"/>
<rect x="428.03" y="590.22" width="7.34" height="2.97" rx="0.93" fill="#000" fill-opacity="0.25" filter="url(#b2)"/>
<rect x="437.23" y="590.22" width="7.34" height="2.97" rx="0.93" fill="#000" fill-opacity="0.4" filter="url(#b2)"/>
<rect x="446.83" y="590.22" width="7.34" height="2.97" rx="0.93" fill="#000" fill-opacity="0.05" filter="url(#b2)"/>
<rect x="456.83" y="590.22" width="7.34" height="2.97" rx="0.93" fill="#000" fill-opacity="0.05" filter="url(#b2)"/>
<rect x="423.7" y="598.9" width="44.2" height="13.4" fill="#fbfbfb" stroke="#111" stroke-width="1.5"/>
<rect x="426.84" y="603.77" width="9.72" height="4.05" rx="1.27" fill="#000" fill-opacity="0.3" filter="url(#b2)"/>
<rect x="436.04" y="603.77" width="9.72" height="4.05" rx="1.27" fill="#000" fill-opacity="1.0" filter="url(#b2)"/>
<rect x="445.64" y="603.77" width="9.72" height="4.05" rx="1.27" fill="#000" fill-opacity="0.1" filter="url(#b2)"/>
<rect x="455.64" y="603.77" width="9.72" height="4.05" rx="1.27" fill="#000" fill-opacity="0.9" filter="url(#b2)"/>
<rect x="423.7" y="614.6" width="44.2" height="8.7" fill="#fbfbfb" stroke="#111" stroke-width="1.5"/>
<rect x="427.06" y="617.14" width="9.29" height="3.51" rx="1.1" fill="#000" fill-opacity="0.95" filter="url(#b)"/>
<rect x="436.26" y="617.14" width="9.29" height="3.51" rx="1.1" fill="#000" fill-opacity="0.95" filter="url(#b)"/>
<rect x="445.86" y="617.14" width="9.29" height="3.51" rx="1.1" fill="#000" fill-opacity="0.95" filter="url(#b)"/>
<rect x="455.86" y="617.14" width="9.29" height="3.51" rx="1.1" fill="#000" fill-opacity="0.95" filter="url(#b)"/>
<text x="419.8" y="558.7" font-size="6.9" text-anchor="end">PARP</text>
<text x="419.8" y="566" font-size="6.9" text-anchor="end" textLength="45.8" lengthAdjust="spacingAndGlyphs">Cleaved-PARP</text>
<text x="419.8" y="575.9" font-size="6.9" text-anchor="end">Mcl-1</text>
<text x="419.8" y="586.2" font-size="6.9" text-anchor="end">Bim<tspan font-size="74%" dy="0.42em">EL</tspan></text>
<text x="419.8" y="595.6" font-size="6.9" text-anchor="end">Bim<tspan font-size="74%" dy="0.42em">L/S</tspan></text>
<text x="419.8" y="607.7" font-size="6.9" text-anchor="end">NOXA</text>
<text x="419.8" y="621.2" font-size="6.9" text-anchor="end">β-actin</text>
<text x="8.2" y="650.4" font-size="12.8" font-weight="bold" class="pl">H</text>
<text x="68.5" y="649.8" font-size="6.2" text-anchor="middle">U937</text>
<text x="88.8" y="649.8" font-size="6.2" text-anchor="middle">Mac 6</text>
<text x="111.8" y="649.8" font-size="6.2" text-anchor="middle">THP-1</text>
<text x="134.9" y="649.8" font-size="6.2" text-anchor="middle">Kasumi-1</text>
<text x="157.3" y="649.8" font-size="6.2" text-anchor="middle">ME-1</text>
<text x="87.9" y="641.6" font-size="6.2" text-anchor="middle">Mono</text>
<line x1="59.7" y1="654.4" x2="75.8" y2="654.4" stroke="#8c8c8c" stroke-width="1.4"/>
<line x1="81.2" y1="654.4" x2="98" y2="654.4" stroke="#8c8c8c" stroke-width="1.4"/>
<line x1="103.5" y1="654.4" x2="119.7" y2="654.4" stroke="#8c8c8c" stroke-width="1.4"/>
<line x1="125.7" y1="654.4" x2="141.8" y2="654.4" stroke="#8c8c8c" stroke-width="1.4"/>
<line x1="147.4" y1="654.4" x2="164.2" y2="654.4" stroke="#8c8c8c" stroke-width="1.4"/>
<text x="63.8" y="670" font-size="6.8" transform="rotate(-45 63.8 670)">Con</text>
<text x="74.25" y="670.6" font-size="6.8" transform="rotate(-45 74.25 670.6)">A1</text>
<text x="85.1" y="670" font-size="6.8" transform="rotate(-45 85.1 670)">Con</text>
<text x="95.55" y="670.6" font-size="6.8" transform="rotate(-45 95.55 670.6)">A1</text>
<text x="106.4" y="670" font-size="6.8" transform="rotate(-45 106.4 670)">Con</text>
<text x="116.85" y="670.6" font-size="6.8" transform="rotate(-45 116.85 670.6)">A1</text>
<text x="127.7" y="670" font-size="6.8" transform="rotate(-45 127.7 670)">Con</text>
<text x="138.15" y="670.6" font-size="6.8" transform="rotate(-45 138.15 670.6)">A1</text>
<text x="149" y="670" font-size="6.8" transform="rotate(-45 149 670)">Con</text>
<text x="159.45" y="670.6" font-size="6.8" transform="rotate(-45 159.45 670.6)">A1</text>
<rect x="57.3" y="676.1" width="106.5" height="14.3" fill="#fbfbfb" stroke="#111" stroke-width="1.5"/>
<rect x="58.28" y="678.98" width="8.64" height="3.24" rx="1.01" fill="#000" fill-opacity="0.95" filter="url(#b)"/>
<rect x="68.93" y="678.98" width="8.64" height="3.24" rx="1.01" fill="#000" fill-opacity="0.3" filter="url(#b)"/>
<rect x="79.58" y="678.98" width="8.64" height="3.24" rx="1.01" fill="#000" fill-opacity="0.95" filter="url(#b)"/>
<rect x="90.23" y="678.98" width="8.64" height="3.24" rx="1.01" fill="#000" fill-opacity="0.4" filter="url(#b)"/>
<rect x="100.88" y="678.98" width="8.64" height="3.24" rx="1.01" fill="#000" fill-opacity="0.55" filter="url(#b)"/>
<rect x="122.18" y="678.98" width="8.64" height="3.24" rx="1.01" fill="#000" fill-opacity="0.75" filter="url(#b)"/>
<rect x="132.83" y="678.98" width="8.64" height="3.24" rx="1.01" fill="#000" fill-opacity="0.15" filter="url(#b)"/>
<rect x="143.48" y="678.98" width="8.64" height="3.24" rx="1.01" fill="#000" fill-opacity="0.8" filter="url(#b)"/>
<rect x="154.13" y="678.98" width="8.64" height="3.24" rx="1.01" fill="#000" fill-opacity="0.1" filter="url(#b)"/>
<rect x="58.28" y="684.38" width="8.64" height="3.24" rx="1.01" fill="#000" fill-opacity="0.4" filter="url(#b)"/>
<rect x="68.93" y="684.38" width="8.64" height="3.24" rx="1.01" fill="#000" fill-opacity="0.9" filter="url(#b)"/>
<rect x="79.58" y="684.38" width="8.64" height="3.24" rx="1.01" fill="#000" fill-opacity="0.4" filter="url(#b)"/>
<rect x="90.23" y="684.38" width="8.64" height="3.24" rx="1.01" fill="#000" fill-opacity="0.95" filter="url(#b)"/>
<rect x="100.88" y="684.38" width="8.64" height="3.24" rx="1.01" fill="#000" fill-opacity="0.1" filter="url(#b)"/>
<rect x="111.53" y="684.38" width="8.64" height="3.24" rx="1.01" fill="#000" fill-opacity="0.85" filter="url(#b)"/>
<rect x="122.18" y="684.38" width="8.64" height="3.24" rx="1.01" fill="#000" fill-opacity="0.05" filter="url(#b)"/>
<rect x="132.83" y="684.38" width="8.64" height="3.24" rx="1.01" fill="#000" fill-opacity="0.1" filter="url(#b)"/>
<rect x="143.48" y="684.38" width="8.64" height="3.24" rx="1.01" fill="#000" fill-opacity="0.15" filter="url(#b)"/>
<rect x="154.13" y="684.38" width="8.64" height="3.24" rx="1.01" fill="#000" fill-opacity="0.4" filter="url(#b)"/>
<rect x="57.3" y="693.2" width="106.5" height="11.4" fill="#fbfbfb" stroke="#111" stroke-width="1.5"/>
<rect x="57.96" y="696.98" width="9.29" height="4.05" rx="1.27" fill="#000" fill-opacity="0.8" filter="url(#b)"/>
<rect x="68.61" y="696.98" width="9.29" height="4.05" rx="1.27" fill="#000" fill-opacity="0.75" filter="url(#b)"/>
<rect x="79.26" y="696.98" width="9.29" height="4.05" rx="1.27" fill="#000" fill-opacity="0.8" filter="url(#b)"/>
<rect x="89.91" y="696.98" width="9.29" height="4.05" rx="1.27" fill="#000" fill-opacity="0.85" filter="url(#b)"/>
<rect x="100.56" y="696.98" width="9.29" height="4.05" rx="1.27" fill="#000" fill-opacity="1.0" filter="url(#b)"/>
<rect x="111.21" y="696.98" width="9.29" height="4.05" rx="1.27" fill="#000" fill-opacity="1.0" filter="url(#b)"/>
<rect x="121.86" y="696.98" width="9.29" height="4.05" rx="1.27" fill="#000" fill-opacity="0.2" filter="url(#b)"/>
<rect x="132.51" y="696.98" width="9.29" height="4.05" rx="1.27" fill="#000" fill-opacity="0.15" filter="url(#b)"/>
<rect x="143.16" y="696.98" width="9.29" height="4.05" rx="1.27" fill="#000" fill-opacity="0.75" filter="url(#b)"/>
<rect x="153.81" y="696.98" width="9.29" height="4.05" rx="1.27" fill="#000" fill-opacity="0.75" filter="url(#b)"/>
<rect x="57.3" y="707.4" width="106.5" height="9.9" fill="#fbfbfb" stroke="#111" stroke-width="1.5"/>
<rect x="57.96" y="710.27" width="9.29" height="4.05" rx="1.27" fill="#000" fill-opacity="0.9" filter="url(#b)"/>
<rect x="68.61" y="710.27" width="9.29" height="4.05" rx="1.27" fill="#000" fill-opacity="0.85" filter="url(#b)"/>
<rect x="79.26" y="710.27" width="9.29" height="4.05" rx="1.27" fill="#000" fill-opacity="1.0" filter="url(#b)"/>
<rect x="89.91" y="710.27" width="9.29" height="4.05" rx="1.27" fill="#000" fill-opacity="1.0" filter="url(#b)"/>
<rect x="100.56" y="710.27" width="9.29" height="4.05" rx="1.27" fill="#000" fill-opacity="0.85" filter="url(#b)"/>
<rect x="111.21" y="710.27" width="9.29" height="4.05" rx="1.27" fill="#000" fill-opacity="0.6" filter="url(#b)"/>
<rect x="121.86" y="710.27" width="9.29" height="4.05" rx="1.27" fill="#000" fill-opacity="0.85" filter="url(#b)"/>
<rect x="132.51" y="710.27" width="9.29" height="4.05" rx="1.27" fill="#000" fill-opacity="0.7" filter="url(#b)"/>
<rect x="143.16" y="710.27" width="9.29" height="4.05" rx="1.27" fill="#000" fill-opacity="0.9" filter="url(#b)"/>
<rect x="153.81" y="710.27" width="9.29" height="4.05" rx="1.27" fill="#000" fill-opacity="0.05" filter="url(#b)"/>
<rect x="57.3" y="720" width="106.5" height="20.7" fill="#fbfbfb" stroke="#111" stroke-width="1.5"/>
<rect x="57.52" y="723.1" width="10.15" height="5.4" rx="1.69" fill="#000" fill-opacity="0.95" filter="url(#b)"/>
<rect x="68.17" y="723.1" width="10.15" height="5.4" rx="1.69" fill="#000" fill-opacity="0.9" filter="url(#b)"/>
<rect x="78.82" y="722.03" width="10.15" height="5.13" rx="1.6" fill="#000" fill-opacity="0.9" filter="url(#b)"/>
<rect x="89.47" y="721.5" width="10.15" height="6.21" rx="1.94" fill="#000" fill-opacity="1.0" filter="url(#b)"/>
<rect x="100.12" y="722.83" width="10.15" height="5.13" rx="1.6" fill="#000" fill-opacity="0.85" filter="url(#b)"/>
<rect x="110.77" y="724.25" width="10.15" height="3.51" rx="1.1" fill="#000" fill-opacity="0.75" filter="url(#b)"/>
<rect x="121.42" y="721.96" width="10.15" height="5.67" rx="1.77" fill="#000" fill-opacity="0.95" filter="url(#b)"/>
<rect x="132.07" y="722.7" width="10.15" height="5.4" rx="1.69" fill="#000" fill-opacity="0.9" filter="url(#b)"/>
<rect x="142.72" y="723.31" width="10.15" height="4.59" rx="1.43" fill="#000" fill-opacity="0.85" filter="url(#b)"/>
<rect x="153.37" y="724.65" width="10.15" height="2.7" rx="0.84" fill="#000" fill-opacity="0.6" filter="url(#b)"/>
<rect x="57.63" y="735.04" width="9.94" height="3.51" rx="1.1" fill="#000" fill-opacity="0.9" filter="url(#b)"/>
<rect x="68.28" y="735.04" width="9.94" height="3.51" rx="1.1" fill="#000" fill-opacity="0.85" filter="url(#b)"/>
<rect x="78.93" y="735.18" width="9.94" height="3.24" rx="1.01" fill="#000" fill-opacity="0.6" filter="url(#b)"/>
<rect x="89.58" y="734.64" width="9.94" height="4.32" rx="1.35" fill="#000" fill-opacity="0.9" filter="url(#b)"/>
<rect x="100.23" y="735.18" width="9.94" height="3.24" rx="1.01" fill="#000" fill-opacity="0.6" filter="url(#b)"/>
<rect x="110.88" y="735.31" width="9.94" height="2.97" rx="0.93" fill="#000" fill-opacity="0.7" filter="url(#b)"/>
<rect x="121.53" y="734.91" width="9.94" height="3.78" rx="1.18" fill="#000" fill-opacity="0.85" filter="url(#b)"/>
<rect x="132.18" y="734.91" width="9.94" height="3.78" rx="1.18" fill="#000" fill-opacity="0.8" filter="url(#b)"/>
<rect x="142.83" y="735.18" width="9.94" height="3.24" rx="1.01" fill="#000" fill-opacity="0.45" filter="url(#b)"/>
<rect x="153.48" y="735.45" width="9.94" height="2.7" rx="0.84" fill="#000" fill-opacity="0.3" filter="url(#b)"/>
<rect x="57.3" y="743.9" width="106.5" height="14.7" fill="#e4e4e4" stroke="#111" stroke-width="1.5"/>
<path d="M58.5 753.5 C 66 752, 70 750.6, 78 750.6 S 90 748.8, 98 749.5 S 110 752, 118 752.5 S 130 755, 138 754 S 150 752.6, 162.5 752.6" fill="none" stroke="#000" stroke-opacity="0.45" stroke-width="1.0" filter="url(#b)"/>
<rect x="58.28" y="753.65" width="8.64" height="2.7" rx="0.84" fill="#000" fill-opacity="0.1" filter="url(#b2)"/>
<rect x="68.88" y="748.88" width="8.64" height="3.24" rx="1.01" fill="#000" fill-opacity="0.7" filter="url(#b2)"/>
<rect x="79.58" y="748.72" width="8.64" height="2.97" rx="0.93" fill="#000" fill-opacity="0.4" filter="url(#b2)"/>
<rect x="89.1" y="745.63" width="10.8" height="5.94" rx="1.86" fill="#000" fill-opacity="1.0" filter="url(#b2)"/>
<rect x="100.88" y="750.15" width="8.64" height="2.7" rx="0.84" fill="#000" fill-opacity="0.3" filter="url(#b2)"/>
<rect x="111.48" y="750.18" width="8.64" height="4.05" rx="1.27" fill="#000" fill-opacity="0.8" filter="url(#b2)"/>
<rect x="122.18" y="752.65" width="8.64" height="2.7" rx="0.84" fill="#000" fill-opacity="0.1" filter="url(#b2)"/>
<rect x="132.78" y="751.98" width="8.64" height="3.24" rx="1.01" fill="#000" fill-opacity="0.4" filter="url(#b2)"/>
<rect x="143.48" y="750.85" width="8.64" height="3.51" rx="1.1" fill="#000" fill-opacity="0.6" filter="url(#b2)"/>
<rect x="153.54" y="750.5" width="9.72" height="4.59" rx="1.43" fill="#000" fill-opacity="0.95" filter="url(#b2)"/>
<rect x="57.3" y="761.3" width="106.5" height="9.3" fill="#fbfbfb" stroke="#111" stroke-width="1.5"/>
<rect x="57.74" y="764.11" width="9.72" height="3.78" rx="1.18" fill="#000" fill-opacity="0.95" filter="url(#b)"/>
<rect x="68.39" y="764.11" width="9.72" height="3.78" rx="1.18" fill="#000" fill-opacity="0.95" filter="url(#b)"/>
<rect x="79.04" y="764.11" width="9.72" height="3.78" rx="1.18" fill="#000" fill-opacity="0.95" filter="url(#b)"/>
<rect x="89.69" y="764.11" width="9.72" height="3.78" rx="1.18" fill="#000" fill-opacity="0.95" filter="url(#b)"/>
<rect x="100.34" y="764.11" width="9.72" height="3.78" rx="1.18" fill="#000" fill-opacity="0.95" filter="url(#b)"/>
<rect x="110.99" y="764.11" width="9.72" height="3.78" rx="1.18" fill="#000" fill-opacity="0.95" filter="url(#b)"/>
<rect x="121.64" y="764.11" width="9.72" height="3.78" rx="1.18" fill="#000" fill-opacity="0.95" filter="url(#b)"/>
<rect x="132.29" y="764.11" width="9.72" height="3.78" rx="1.18" fill="#000" fill-opacity="0.95" filter="url(#b)"/>
<rect x="142.94" y="764.11" width="9.72" height="3.78" rx="1.18" fill="#000" fill-opacity="0.95" filter="url(#b)"/>
<rect x="153.59" y="764.11" width="9.72" height="3.78" rx="1.18" fill="#000" fill-opacity="0.95" filter="url(#b)"/>
<text x="53.2" y="683.7" font-size="6.7" text-anchor="end">PARP</text>
<text x="53.2" y="690.6" font-size="6.7" text-anchor="end" textLength="45.4" lengthAdjust="spacingAndGlyphs">Cleaved-PARP</text>
<text x="53.2" y="701.6" font-size="6.7" text-anchor="end">Bcl-2</text>
<text x="53.2" y="715.1" font-size="6.7" text-anchor="end">Mcl-1</text>
<text x="53.2" y="726" font-size="6.7" text-anchor="end">Bim<tspan font-size="74%" dy="0.42em">EL</tspan></text>
<text x="53.2" y="738" font-size="6.7" text-anchor="end">Bim<tspan font-size="74%" dy="0.42em">L/S</tspan></text>
<text x="53.2" y="755.7" font-size="6.7" text-anchor="end">NOXA</text>
<text x="53.2" y="767.8" font-size="6.7" text-anchor="end">β-actin</text>
<line x1="214.2" y1="653.3" x2="214.2" y2="739.1" stroke="#1a1a1a" stroke-width="1.2"/>
<line x1="211.2" y1="738.6" x2="214.2" y2="738.6" stroke="#1a1a1a" stroke-width="0.9"/>
<text x="207.6" y="740.98" font-size="6.6" text-anchor="end">0.0</text>
<line x1="211.2" y1="711.43" x2="214.2" y2="711.43" stroke="#1a1a1a" stroke-width="0.9"/>
<text x="207.6" y="713.81" font-size="6.6" text-anchor="end">0.5</text>
<line x1="211.2" y1="684.27" x2="214.2" y2="684.27" stroke="#1a1a1a" stroke-width="0.9"/>
<text x="207.6" y="686.64" font-size="6.6" text-anchor="end">1.0</text>
<line x1="211.2" y1="657.1" x2="214.2" y2="657.1" stroke="#1a1a1a" stroke-width="0.9"/>
<text x="207.6" y="659.48" font-size="6.6" text-anchor="end">1.5</text>
<line x1="214.2" y1="738.6" x2="328.2" y2="738.6" stroke="#1a1a1a" stroke-width="1.2"/>
<text x="184" y="695.9" font-size="8.0" text-anchor="middle" font-weight="bold" textLength="81.4" lengthAdjust="spacingAndGlyphs" transform="rotate(-90 184 695.9)">Relative expression of Mcl-1</text>
<text x="195.5" y="695.3" font-size="8.0" text-anchor="middle" font-weight="bold" textLength="31.8" lengthAdjust="spacingAndGlyphs" transform="rotate(-90 195.5 695.3)">(% of Con)</text>
<rect x="220.1" y="655.9" width="6.6" height="2.5" fill="#8a9298"/>
<text x="230.2" y="659.7" font-size="7.2">Con</text>
<rect x="220.1" y="664.2" width="6.6" height="2.5" fill="#e8173e"/>
<text x="230.2" y="668" font-size="7.2">A1</text>
<rect x="217.75" y="684.81" width="5.2" height="53.79" fill="#8a9298"/>
<line x1="229.25" y1="696.22" x2="229.25" y2="689.7" stroke="#e8173e" stroke-width="0.8"/>
<line x1="228.05" y1="689.7" x2="230.45" y2="689.7" stroke="#e8173e" stroke-width="0.8"/>
<rect x="226.65" y="696.22" width="5.2" height="42.38" fill="#e8173e"/>
<line x1="224.8" y1="738.6" x2="224.8" y2="741.4" stroke="#1a1a1a" stroke-width="0.9"/>
<text x="229.25" y="688.9" font-size="6.2" text-anchor="middle">*</text>
<text x="226.8" y="748.3" font-size="6.4" text-anchor="end" transform="rotate(-45 226.8 748.3)">U937</text>
<rect x="241.15" y="684.81" width="5.2" height="53.79" fill="#8a9298"/>
<line x1="252.65" y1="681.55" x2="252.65" y2="677.75" stroke="#e8173e" stroke-width="0.8"/>
<line x1="251.45" y1="677.75" x2="253.85" y2="677.75" stroke="#e8173e" stroke-width="0.8"/>
<rect x="250.05" y="681.55" width="5.2" height="57.05" fill="#e8173e"/>
<line x1="248.2" y1="738.6" x2="248.2" y2="741.4" stroke="#1a1a1a" stroke-width="0.9"/>
<text x="250.2" y="748.3" font-size="6.4" text-anchor="end" transform="rotate(-45 250.2 748.3)">Mono Mac 6</text>
<rect x="264.55" y="684.81" width="5.2" height="53.79" fill="#8a9298"/>
<line x1="276.05" y1="723.39" x2="276.05" y2="707.63" stroke="#e8173e" stroke-width="0.8"/>
<line x1="274.85" y1="707.63" x2="277.25" y2="707.63" stroke="#e8173e" stroke-width="0.8"/>
<rect x="273.45" y="723.39" width="5.2" height="15.21" fill="#e8173e"/>
<line x1="271.6" y1="738.6" x2="271.6" y2="741.4" stroke="#1a1a1a" stroke-width="0.9"/>
<text x="276.05" y="706.83" font-size="6.2" text-anchor="middle">***</text>
<text x="273.6" y="748.3" font-size="6.4" text-anchor="end" transform="rotate(-45 273.6 748.3)">THP-1</text>
<rect x="287.95" y="684.81" width="5.2" height="53.79" fill="#8a9298"/>
<line x1="299.45" y1="694.05" x2="299.45" y2="689.7" stroke="#e8173e" stroke-width="0.8"/>
<line x1="298.25" y1="689.7" x2="300.65" y2="689.7" stroke="#e8173e" stroke-width="0.8"/>
<rect x="296.85" y="694.05" width="5.2" height="44.55" fill="#e8173e"/>
<line x1="295" y1="738.6" x2="295" y2="741.4" stroke="#1a1a1a" stroke-width="0.9"/>
<text x="299.45" y="688.9" font-size="6.2" text-anchor="middle">*</text>
<text x="297" y="748.3" font-size="6.4" text-anchor="end" transform="rotate(-45 297 748.3)">Kasumi-1</text>
<rect x="311.35" y="684.81" width="5.2" height="53.79" fill="#8a9298"/>
<line x1="322.85" y1="734.25" x2="322.85" y2="733.17" stroke="#e8173e" stroke-width="0.8"/>
<line x1="321.65" y1="733.17" x2="324.05" y2="733.17" stroke="#e8173e" stroke-width="0.8"/>
<rect x="320.25" y="734.25" width="5.2" height="4.35" fill="#e8173e"/>
<line x1="318.4" y1="738.6" x2="318.4" y2="741.4" stroke="#1a1a1a" stroke-width="0.9"/>
<text x="322.85" y="732.37" font-size="6.2" text-anchor="middle">***</text>
<text x="320.4" y="748.3" font-size="6.4" text-anchor="end" transform="rotate(-45 320.4 748.3)">ME-1</text>
<line x1="377" y1="652.8" x2="377" y2="739.2" stroke="#1a1a1a" stroke-width="1.2"/>
<line x1="374" y1="738.7" x2="377" y2="738.7" stroke="#1a1a1a" stroke-width="0.9"/>
<text x="370.8" y="741.15" font-size="6.8" text-anchor="end">0</text>
<line x1="374" y1="711.33" x2="377" y2="711.33" stroke="#1a1a1a" stroke-width="0.9"/>
<text x="370.8" y="713.78" font-size="6.8" text-anchor="end">1</text>
<line x1="374" y1="683.97" x2="377" y2="683.97" stroke="#1a1a1a" stroke-width="0.9"/>
<text x="370.8" y="686.41" font-size="6.8" text-anchor="end">2</text>
<line x1="374" y1="656.6" x2="377" y2="656.6" stroke="#1a1a1a" stroke-width="0.9"/>
<text x="370.8" y="659.05" font-size="6.8" text-anchor="end">3</text>
<line x1="377" y1="738.7" x2="506" y2="738.7" stroke="#1a1a1a" stroke-width="1.2"/>
<text x="353" y="695.2" font-size="8.0" text-anchor="middle" font-weight="bold" textLength="83.4" lengthAdjust="spacingAndGlyphs" transform="rotate(-90 353 695.2)">Relative expression of NOXA</text>
<text x="364.5" y="697.2" font-size="8.0" text-anchor="middle" font-weight="bold" textLength="35" lengthAdjust="spacingAndGlyphs" transform="rotate(-90 364.5 697.2)">(% of Con)</text>
<rect x="382.4" y="656" width="7.4" height="2.5" fill="#8a9298"/>
<text x="392.5" y="659.8" font-size="7.2">Con</text>
<rect x="382.4" y="664.1" width="7.4" height="2.5" fill="#e8173e"/>
<text x="392.5" y="667.9" font-size="7.2">A1</text>
<rect x="380.9" y="712.15" width="5" height="26.55" fill="#8a9298"/>
<line x1="392.2" y1="696.28" x2="392.2" y2="693.55" stroke="#e8173e" stroke-width="0.8"/>
<line x1="391" y1="693.55" x2="393.4" y2="693.55" stroke="#e8173e" stroke-width="0.8"/>
<rect x="389.5" y="696.28" width="5.4" height="42.42" fill="#e8173e"/>
<line x1="387.8" y1="738.7" x2="387.8" y2="741.4" stroke="#1a1a1a" stroke-width="0.9"/>
<text x="392.2" y="692.75" font-size="6.2" text-anchor="middle">***</text>
<text x="389.8" y="748.3" font-size="6.4" text-anchor="end" transform="rotate(-45 389.8 748.3)">U937</text>
<rect x="404.1" y="712.15" width="5" height="26.55" fill="#8a9298"/>
<line x1="415.4" y1="681.78" x2="415.4" y2="668.92" stroke="#e8173e" stroke-width="0.8"/>
<line x1="414.2" y1="668.92" x2="416.6" y2="668.92" stroke="#e8173e" stroke-width="0.8"/>
<rect x="412.7" y="681.78" width="5.4" height="56.92" fill="#e8173e"/>
<line x1="411" y1="738.7" x2="411" y2="741.4" stroke="#1a1a1a" stroke-width="0.9"/>
<text x="415.4" y="668.12" font-size="6.2" text-anchor="middle">***</text>
<text x="413" y="748.3" font-size="6.4" text-anchor="end" transform="rotate(-45 413 748.3)">Mono Mac 6</text>
<rect x="427.3" y="712.15" width="5" height="26.55" fill="#8a9298"/>
<line x1="438.6" y1="699.84" x2="438.6" y2="694.37" stroke="#e8173e" stroke-width="0.8"/>
<line x1="437.4" y1="694.37" x2="439.8" y2="694.37" stroke="#e8173e" stroke-width="0.8"/>
<rect x="435.9" y="699.84" width="5.4" height="38.86" fill="#e8173e"/>
<line x1="434.2" y1="738.7" x2="434.2" y2="741.4" stroke="#1a1a1a" stroke-width="0.9"/>
<text x="438.6" y="693.57" font-size="6.2" text-anchor="middle">**</text>
<text x="436.2" y="748.3" font-size="6.4" text-anchor="end" transform="rotate(-45 436.2 748.3)">THP-1</text>
<rect x="450.5" y="712.15" width="5" height="26.55" fill="#8a9298"/>
<line x1="461.8" y1="689.99" x2="461.8" y2="686.7" stroke="#e8173e" stroke-width="0.8"/>
<line x1="460.6" y1="686.7" x2="463" y2="686.7" stroke="#e8173e" stroke-width="0.8"/>
<rect x="459.1" y="689.99" width="5.4" height="48.71" fill="#e8173e"/>
<line x1="457.4" y1="738.7" x2="457.4" y2="741.4" stroke="#1a1a1a" stroke-width="0.9"/>
<text x="461.8" y="685.9" font-size="6.2" text-anchor="middle">***</text>
<text x="459.4" y="748.3" font-size="6.4" text-anchor="end" transform="rotate(-45 459.4 748.3)">Kasumi-1</text>
<rect x="473.7" y="712.15" width="5" height="26.55" fill="#8a9298"/>
<line x1="485" y1="696.28" x2="485" y2="692.72" stroke="#e8173e" stroke-width="0.8"/>
<line x1="483.8" y1="692.72" x2="486.2" y2="692.72" stroke="#e8173e" stroke-width="0.8"/>
<rect x="482.3" y="696.28" width="5.4" height="42.42" fill="#e8173e"/>
<line x1="480.6" y1="738.7" x2="480.6" y2="741.4" stroke="#1a1a1a" stroke-width="0.9"/>
<text x="485" y="691.92" font-size="6.2" text-anchor="middle">***</text>
<text x="482.6" y="748.3" font-size="6.4" text-anchor="end" transform="rotate(-45 482.6 748.3)">ME-1</text>
</svg><div id="fr"></div></div></body></html>
